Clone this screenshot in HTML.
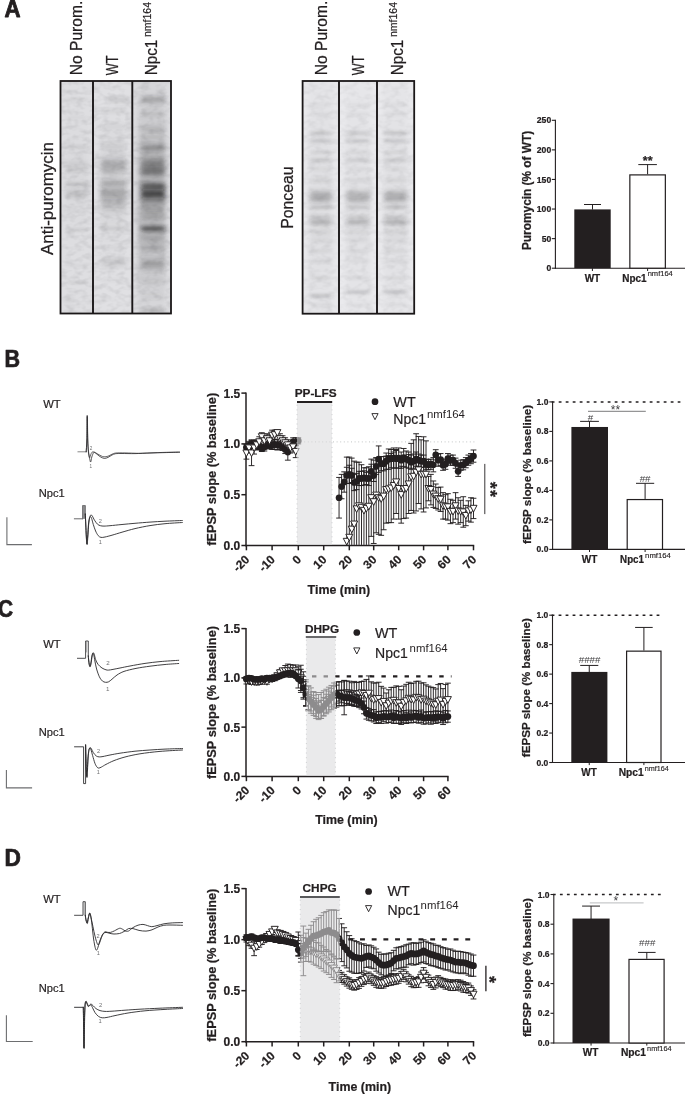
<!DOCTYPE html>
<html><head><meta charset="utf-8"><title>Figure</title>
<style>
html,body{margin:0;padding:0;background:#fff;}
body{width:685px;height:1094px;overflow:hidden;font-family:"Liberation Sans",Arial,sans-serif;}
svg{display:block;}
svg text{font-family:"Liberation Sans",Arial,sans-serif;}
</style></head><body>
<svg width="685" height="1094" viewBox="0 0 685 1094">
<defs>
<filter id="b1" x="-20%" y="-300%" width="140%" height="700%"><feGaussianBlur stdDeviation="1.6 1.1"/></filter>
<filter id="b2" x="-20%" y="-300%" width="140%" height="700%"><feGaussianBlur stdDeviation="2.2 2.2"/></filter>
<filter id="b3" x="-20%" y="-100%" width="140%" height="300%"><feGaussianBlur stdDeviation="3 4"/></filter>
<filter id="noise" x="0" y="0" width="100%" height="100%" color-interpolation-filters="sRGB"><feTurbulence type="fractalNoise" baseFrequency="0.12 0.2" numOctaves="2" seed="4"/><feColorMatrix type="matrix" values="0 0 0 0 0.08  0 0 0 0 0.08  0 0 0 0 0.1  0.2 0 0 0 -0.082"/></filter>
<filter id="noise2" x="0" y="0" width="100%" height="100%" color-interpolation-filters="sRGB"><feTurbulence type="fractalNoise" baseFrequency="0.12 0.2" numOctaves="2" seed="9"/><feColorMatrix type="matrix" values="0 0 0 0 0.08  0 0 0 0 0.08  0 0 0 0 0.1  0.14 0 0 0 -0.058"/></filter>
<linearGradient id="lg1" x1="0" x2="1" y1="0" y2="0"><stop offset="0" stop-color="#d2d3d5"/><stop offset="0.5" stop-color="#e2e3e5"/><stop offset="1" stop-color="#d6d7d9"/></linearGradient>
<linearGradient id="lg2" x1="0" x2="1" y1="0" y2="0"><stop offset="0" stop-color="#e3e4e6"/><stop offset="0.5" stop-color="#ecedef"/><stop offset="1" stop-color="#e3e4e6"/></linearGradient>
</defs>
<rect x="0" y="0" width="685" height="1094" fill="#ffffff"/>
<text transform="translate(4.6 16.9) scale(0.95 1)" x="0" y="0" font-size="23.4" font-weight="bold" fill="#231f20" stroke="#231f20" stroke-width="0.8" stroke-linejoin="round">A</text>
<text transform="translate(4.6 367.2) scale(0.93 1)" x="0" y="0" font-size="23.2" font-weight="bold" fill="#231f20" stroke="#231f20" stroke-width="0.7" stroke-linejoin="round">B</text>
<text transform="translate(-2.0 617.1) scale(0.9 1)" x="0" y="0" font-size="23.2" font-weight="bold" fill="#231f20" stroke="#231f20" stroke-width="0.7" stroke-linejoin="round">C</text>
<text transform="translate(4.6 866.3) scale(0.98 1)" x="0" y="0" font-size="23.2" font-weight="bold" fill="#231f20" stroke="#231f20" stroke-width="0.7" stroke-linejoin="round">D</text>
<clipPath id="cpA"><rect x="60.5" y="81" width="110.5" height="232.5"/></clipPath>
<g clip-path="url(#cpA)">
<rect x="60.5" y="81" width="32.5" height="232.5" fill="#dedee1"/>
<rect x="93" y="81" width="39.30000000000001" height="232.5" fill="#e0e0e3"/>
<rect x="132.3" y="81" width="38.69999999999999" height="232.5" fill="#dcdcdf"/>
<filter id="f0" x="-30%" y="-600%" width="160%" height="1300%"><feGaussianBlur stdDeviation="2.6 1.5"/></filter>
<rect x="66.0" y="98.2" width="21.5" height="3.0" fill="#141418" opacity="0.053" filter="url(#f0)"/>
<rect x="66.0" y="116.1" width="21.5" height="3.0" fill="#141418" opacity="0.032" filter="url(#f0)"/>
<rect x="66.0" y="145.2" width="21.5" height="3.0" fill="#141418" opacity="0.074" filter="url(#f0)"/>
<filter id="f1" x="-30%" y="-600%" width="160%" height="1300%"><feGaussianBlur stdDeviation="2.6 2.5"/></filter>
<rect x="66.0" y="162.2" width="21.5" height="5.0" fill="#141418" opacity="0.074" filter="url(#f1)"/>
<rect x="66.0" y="168.8" width="21.5" height="3.0" fill="#141418" opacity="0.074" filter="url(#f0)"/>
<rect x="66.0" y="182.7" width="21.5" height="3.0" fill="#141418" opacity="0.149" filter="url(#f0)"/>
<rect x="66.0" y="191.3" width="21.5" height="5.0" fill="#141418" opacity="0.159" filter="url(#f1)"/>
<rect x="66.0" y="210.3" width="21.5" height="3.0" fill="#141418" opacity="0.032" filter="url(#f0)"/>
<rect x="66.0" y="228.2" width="21.5" height="3.0" fill="#141418" opacity="0.074" filter="url(#f0)"/>
<rect x="66.0" y="264.1" width="21.5" height="3.0" fill="#141418" opacity="0.032" filter="url(#f0)"/>
<rect x="66.0" y="280.9" width="21.5" height="3.0" fill="#141418" opacity="0.053" filter="url(#f0)"/>
<filter id="f2" x="-30%" y="-600%" width="160%" height="1300%"><feGaussianBlur stdDeviation="2.6 2.0"/></filter>
<rect x="64.5" y="297.5" width="8.5" height="4.0" fill="#141418" opacity="0.106" filter="url(#f2)"/>
<filter id="f3" x="-30%" y="-600%" width="160%" height="1300%"><feGaussianBlur stdDeviation="2.6 30.0"/></filter>
<rect x="65.5" y="150.0" width="22.5" height="60.0" fill="#141418" opacity="0.032" filter="url(#f3)"/>
<rect x="107.0" y="97.7" width="21.3" height="4.0" fill="#141418" opacity="0.147" filter="url(#f2)"/>
<rect x="101.0" y="108.9" width="25.3" height="4.0" fill="#141418" opacity="0.074" filter="url(#f2)"/>
<rect x="101.0" y="124.6" width="25.3" height="4.0" fill="#141418" opacity="0.059" filter="url(#f2)"/>
<rect x="101.0" y="144.7" width="25.3" height="4.0" fill="#141418" opacity="0.088" filter="url(#f2)"/>
<filter id="f4" x="-30%" y="-600%" width="160%" height="1300%"><feGaussianBlur stdDeviation="2.6 4.5"/></filter>
<rect x="101.0" y="161.3" width="25.3" height="9.0" fill="#141418" opacity="0.294" filter="url(#f4)"/>
<rect x="101.0" y="180.6" width="25.3" height="4.0" fill="#141418" opacity="0.250" filter="url(#f2)"/>
<filter id="f5" x="-30%" y="-600%" width="160%" height="1300%"><feGaussianBlur stdDeviation="2.6 4.0"/></filter>
<rect x="101.0" y="188.7" width="25.3" height="8.0" fill="#141418" opacity="0.309" filter="url(#f5)"/>
<rect x="101.0" y="198.5" width="25.3" height="9.0" fill="#141418" opacity="0.176" filter="url(#f4)"/>
<rect x="101.0" y="227.1" width="25.3" height="3.0" fill="#141418" opacity="0.088" filter="url(#f0)"/>
<rect x="101.0" y="246.1" width="25.3" height="3.0" fill="#141418" opacity="0.044" filter="url(#f0)"/>
<filter id="f6" x="-30%" y="-600%" width="160%" height="1300%"><feGaussianBlur stdDeviation="2.6 3.0"/></filter>
<rect x="101.0" y="259.2" width="25.3" height="6.0" fill="#141418" opacity="0.147" filter="url(#f6)"/>
<rect x="101.0" y="278.5" width="25.3" height="3.0" fill="#141418" opacity="0.044" filter="url(#f0)"/>
<rect x="100.0" y="155.0" width="25.3" height="60.0" fill="#141418" opacity="0.088" filter="url(#f3)"/>
<rect x="141.3" y="97.2" width="23.7" height="5.0" fill="#141418" opacity="0.294" filter="url(#f1)"/>
<rect x="141.3" y="112.0" width="23.7" height="4.0" fill="#141418" opacity="0.118" filter="url(#f2)"/>
<rect x="141.3" y="126.8" width="23.7" height="4.0" fill="#141418" opacity="0.147" filter="url(#f2)"/>
<rect x="141.3" y="135.5" width="23.7" height="3.0" fill="#141418" opacity="0.088" filter="url(#f0)"/>
<rect x="141.3" y="145.4" width="23.7" height="5.0" fill="#141418" opacity="0.382" filter="url(#f1)"/>
<rect x="141.3" y="159.5" width="23.7" height="8.0" fill="#141418" opacity="0.471" filter="url(#f5)"/>
<rect x="141.3" y="168.4" width="23.7" height="6.0" fill="#141418" opacity="0.529" filter="url(#f6)"/>
<rect x="141.3" y="183.5" width="23.7" height="5.0" fill="#141418" opacity="0.706" filter="url(#f1)"/>
<rect x="141.3" y="190.8" width="23.7" height="6.0" fill="#141418" opacity="1.000" filter="url(#f6)"/>
<rect x="141.3" y="198.5" width="23.7" height="5.0" fill="#141418" opacity="0.294" filter="url(#f1)"/>
<rect x="141.3" y="207.0" width="23.7" height="5.0" fill="#141418" opacity="0.206" filter="url(#f1)"/>
<rect x="141.3" y="215.0" width="23.7" height="4.0" fill="#141418" opacity="0.176" filter="url(#f2)"/>
<rect x="141.3" y="226.6" width="23.7" height="4.0" fill="#141418" opacity="0.765" filter="url(#f2)"/>
<rect x="141.3" y="235.5" width="23.7" height="5.0" fill="#141418" opacity="0.176" filter="url(#f1)"/>
<rect x="141.3" y="245.6" width="23.7" height="4.0" fill="#141418" opacity="0.176" filter="url(#f2)"/>
<rect x="141.3" y="261.5" width="23.7" height="6.0" fill="#141418" opacity="0.294" filter="url(#f6)"/>
<rect x="141.3" y="279.0" width="23.7" height="4.0" fill="#141418" opacity="0.059" filter="url(#f2)"/>
<rect x="141.3" y="295.0" width="23.7" height="4.0" fill="#141418" opacity="0.044" filter="url(#f2)"/>
<rect x="141.3" y="308.4" width="23.7" height="4.0" fill="#141418" opacity="0.191" filter="url(#f2)"/>
<filter id="f7" x="-30%" y="-600%" width="160%" height="1300%"><feGaussianBlur stdDeviation="2.6 45.0"/></filter>
<rect x="138.3" y="140.0" width="26.7" height="90.0" fill="#141418" opacity="0.235" filter="url(#f7)"/>
<rect x="138.3" y="220.0" width="26.7" height="60.0" fill="#141418" opacity="0.074" filter="url(#f3)"/>
<rect x="60.5" y="81" width="110.5" height="232.5" fill="#000" filter="url(#noise)"/>
</g>
<rect x="60.5" y="81" width="110.5" height="232.5" fill="none" stroke="#1a1718" stroke-width="1.8"/>
<line x1="93.00" y1="81.00" x2="93.00" y2="313.50" stroke="#1a1718" stroke-width="1.9"/>
<line x1="132.30" y1="81.00" x2="132.30" y2="313.50" stroke="#1a1718" stroke-width="1.9"/>
<clipPath id="cpP"><rect x="302.6" y="81" width="111.59999999999997" height="232.7"/></clipPath>
<g clip-path="url(#cpP)">
<rect x="302.6" y="81" width="36.39999999999998" height="232.7" fill="#e8e8eb"/>
<rect x="339" y="81" width="38" height="232.7" fill="#eaeaed"/>
<rect x="377" y="81" width="37.19999999999999" height="232.7" fill="#e9e9ec"/>
<rect x="310.1" y="103.5" width="21.4" height="3.0" fill="#141418" opacity="0.044" filter="url(#f0)"/>
<rect x="310.1" y="112.5" width="21.4" height="3.0" fill="#141418" opacity="0.051" filter="url(#f0)"/>
<filter id="f8" x="-30%" y="-600%" width="160%" height="1300%"><feGaussianBlur stdDeviation="2.6 1.8"/></filter>
<rect x="310.1" y="131.5" width="21.4" height="3.6" fill="#141418" opacity="0.132" filter="url(#f8)"/>
<rect x="310.1" y="139.2" width="21.4" height="3.6" fill="#141418" opacity="0.132" filter="url(#f8)"/>
<rect x="310.1" y="150.9" width="21.4" height="3.0" fill="#141418" opacity="0.074" filter="url(#f0)"/>
<filter id="f9" x="-30%" y="-600%" width="160%" height="1300%"><feGaussianBlur stdDeviation="2.6 1.7"/></filter>
<rect x="310.1" y="158.5" width="21.4" height="3.4" fill="#141418" opacity="0.132" filter="url(#f9)"/>
<rect x="310.1" y="167.5" width="21.4" height="3.0" fill="#141418" opacity="0.044" filter="url(#f0)"/>
<rect x="310.1" y="178.7" width="21.4" height="3.4" fill="#141418" opacity="0.074" filter="url(#f9)"/>
<rect x="310.1" y="191.5" width="21.4" height="5.0" fill="#141418" opacity="0.250" filter="url(#f1)"/>
<rect x="310.1" y="196.5" width="21.4" height="5.0" fill="#141418" opacity="0.279" filter="url(#f1)"/>
<rect x="310.1" y="205.6" width="21.4" height="3.4" fill="#141418" opacity="0.162" filter="url(#f9)"/>
<rect x="310.1" y="215.0" width="21.4" height="3.4" fill="#141418" opacity="0.118" filter="url(#f9)"/>
<filter id="f10" x="-30%" y="-600%" width="160%" height="1300%"><feGaussianBlur stdDeviation="2.6 1.9"/></filter>
<rect x="310.1" y="220.3" width="21.4" height="3.8" fill="#141418" opacity="0.324" filter="url(#f10)"/>
<rect x="310.1" y="230.0" width="21.4" height="4.0" fill="#141418" opacity="0.088" filter="url(#f2)"/>
<rect x="310.1" y="238.0" width="21.4" height="4.0" fill="#141418" opacity="0.059" filter="url(#f2)"/>
<rect x="310.1" y="249.5" width="21.4" height="3.0" fill="#141418" opacity="0.059" filter="url(#f0)"/>
<rect x="310.1" y="259.5" width="21.4" height="3.0" fill="#141418" opacity="0.059" filter="url(#f0)"/>
<rect x="310.1" y="276.5" width="21.4" height="3.0" fill="#141418" opacity="0.074" filter="url(#f0)"/>
<rect x="310.1" y="294.1" width="21.4" height="3.6" fill="#141418" opacity="0.162" filter="url(#f8)"/>
<rect x="310.1" y="303.3" width="21.4" height="3.0" fill="#141418" opacity="0.051" filter="url(#f0)"/>
<filter id="f11" x="-30%" y="-600%" width="160%" height="1300%"><feGaussianBlur stdDeviation="2.6 75.0"/></filter>
<rect x="308.6" y="125.0" width="24.4" height="150.0" fill="#141418" opacity="0.051" filter="url(#f11)"/>
<rect x="346.5" y="103.5" width="23.0" height="3.0" fill="#141418" opacity="0.041" filter="url(#f0)"/>
<rect x="346.5" y="112.5" width="23.0" height="3.0" fill="#141418" opacity="0.047" filter="url(#f0)"/>
<rect x="346.5" y="131.5" width="23.0" height="3.6" fill="#141418" opacity="0.122" filter="url(#f8)"/>
<rect x="346.5" y="139.2" width="23.0" height="3.6" fill="#141418" opacity="0.122" filter="url(#f8)"/>
<rect x="346.5" y="150.9" width="23.0" height="3.0" fill="#141418" opacity="0.068" filter="url(#f0)"/>
<rect x="346.5" y="158.5" width="23.0" height="3.4" fill="#141418" opacity="0.122" filter="url(#f9)"/>
<rect x="346.5" y="167.5" width="23.0" height="3.0" fill="#141418" opacity="0.041" filter="url(#f0)"/>
<rect x="346.5" y="178.7" width="23.0" height="3.4" fill="#141418" opacity="0.068" filter="url(#f9)"/>
<rect x="346.5" y="191.5" width="23.0" height="5.0" fill="#141418" opacity="0.229" filter="url(#f1)"/>
<rect x="346.5" y="196.5" width="23.0" height="5.0" fill="#141418" opacity="0.257" filter="url(#f1)"/>
<rect x="346.5" y="205.6" width="23.0" height="3.4" fill="#141418" opacity="0.149" filter="url(#f9)"/>
<rect x="346.5" y="215.0" width="23.0" height="3.4" fill="#141418" opacity="0.109" filter="url(#f9)"/>
<rect x="346.5" y="220.3" width="23.0" height="3.8" fill="#141418" opacity="0.297" filter="url(#f10)"/>
<rect x="346.5" y="230.0" width="23.0" height="4.0" fill="#141418" opacity="0.081" filter="url(#f2)"/>
<rect x="346.5" y="238.0" width="23.0" height="4.0" fill="#141418" opacity="0.054" filter="url(#f2)"/>
<rect x="346.5" y="249.5" width="23.0" height="3.0" fill="#141418" opacity="0.054" filter="url(#f0)"/>
<rect x="346.5" y="259.5" width="23.0" height="3.0" fill="#141418" opacity="0.054" filter="url(#f0)"/>
<rect x="346.5" y="276.5" width="23.0" height="3.0" fill="#141418" opacity="0.068" filter="url(#f0)"/>
<rect x="346.5" y="290.2" width="23.0" height="3.6" fill="#141418" opacity="0.149" filter="url(#f8)"/>
<rect x="346.5" y="303.3" width="23.0" height="3.0" fill="#141418" opacity="0.047" filter="url(#f0)"/>
<rect x="345.0" y="125.0" width="26.0" height="150.0" fill="#141418" opacity="0.051" filter="url(#f11)"/>
<rect x="384.5" y="103.5" width="22.2" height="3.0" fill="#141418" opacity="0.044" filter="url(#f0)"/>
<rect x="384.5" y="112.5" width="22.2" height="3.0" fill="#141418" opacity="0.051" filter="url(#f0)"/>
<rect x="384.5" y="131.5" width="22.2" height="3.6" fill="#141418" opacity="0.132" filter="url(#f8)"/>
<rect x="384.5" y="139.2" width="22.2" height="3.6" fill="#141418" opacity="0.132" filter="url(#f8)"/>
<rect x="384.5" y="150.9" width="22.2" height="3.0" fill="#141418" opacity="0.074" filter="url(#f0)"/>
<rect x="384.5" y="158.5" width="22.2" height="3.4" fill="#141418" opacity="0.132" filter="url(#f9)"/>
<rect x="384.5" y="167.5" width="22.2" height="3.0" fill="#141418" opacity="0.044" filter="url(#f0)"/>
<rect x="384.5" y="178.7" width="22.2" height="3.4" fill="#141418" opacity="0.074" filter="url(#f9)"/>
<rect x="384.5" y="191.5" width="22.2" height="5.0" fill="#141418" opacity="0.250" filter="url(#f1)"/>
<rect x="384.5" y="196.5" width="22.2" height="5.0" fill="#141418" opacity="0.279" filter="url(#f1)"/>
<rect x="384.5" y="205.6" width="22.2" height="3.4" fill="#141418" opacity="0.162" filter="url(#f9)"/>
<rect x="384.5" y="215.0" width="22.2" height="3.4" fill="#141418" opacity="0.118" filter="url(#f9)"/>
<rect x="384.5" y="220.3" width="22.2" height="3.8" fill="#141418" opacity="0.324" filter="url(#f10)"/>
<rect x="384.5" y="230.0" width="22.2" height="4.0" fill="#141418" opacity="0.088" filter="url(#f2)"/>
<rect x="384.5" y="238.0" width="22.2" height="4.0" fill="#141418" opacity="0.059" filter="url(#f2)"/>
<rect x="384.5" y="249.5" width="22.2" height="3.0" fill="#141418" opacity="0.059" filter="url(#f0)"/>
<rect x="384.5" y="259.5" width="22.2" height="3.0" fill="#141418" opacity="0.059" filter="url(#f0)"/>
<rect x="384.5" y="276.5" width="22.2" height="3.0" fill="#141418" opacity="0.074" filter="url(#f0)"/>
<rect x="384.5" y="290.2" width="22.2" height="3.6" fill="#141418" opacity="0.162" filter="url(#f8)"/>
<rect x="384.5" y="303.3" width="22.2" height="3.0" fill="#141418" opacity="0.051" filter="url(#f0)"/>
<rect x="383.0" y="125.0" width="25.2" height="150.0" fill="#141418" opacity="0.051" filter="url(#f11)"/>
<rect x="302.6" y="81" width="111.59999999999997" height="232.7" fill="#000" filter="url(#noise2)"/>
</g>
<rect x="302.6" y="81" width="111.59999999999997" height="232.7" fill="none" stroke="#1a1718" stroke-width="1.8"/>
<line x1="339.00" y1="81.00" x2="339.00" y2="313.70" stroke="#1a1718" stroke-width="1.9"/>
<line x1="377.00" y1="81.00" x2="377.00" y2="313.70" stroke="#1a1718" stroke-width="1.9"/>
<text x="0" y="0" transform="translate(81.90 75.20) rotate(-90)" font-size="16" text-anchor="start" fill="#231f20" textLength="74.50" lengthAdjust="spacingAndGlyphs" stroke="#231f20" stroke-width="0.25">No Purom.</text>
<text x="0" y="0" transform="translate(118.30 75.20) rotate(-90)" font-size="16" text-anchor="start" fill="#231f20" textLength="19.60" lengthAdjust="spacingAndGlyphs" stroke="#231f20" stroke-width="0.25">WT</text>
<text x="0" y="0" transform="translate(156.90 75.20) rotate(-90)" font-size="16" text-anchor="start" fill="#231f20" textLength="35.50" lengthAdjust="spacingAndGlyphs" stroke="#231f20" stroke-width="0.25">Npc1</text>
<text x="0" y="0" transform="translate(151.10 37.00) rotate(-90)" font-size="10.6" text-anchor="start" fill="#231f20" textLength="35.00" lengthAdjust="spacingAndGlyphs" stroke="#231f20" stroke-width="0.2">nmf164</text>
<text x="0" y="0" transform="translate(327.20 75.20) rotate(-90)" font-size="16" text-anchor="start" fill="#231f20" textLength="74.50" lengthAdjust="spacingAndGlyphs" stroke="#231f20" stroke-width="0.25">No Purom.</text>
<text x="0" y="0" transform="translate(363.50 75.20) rotate(-90)" font-size="16" text-anchor="start" fill="#231f20" textLength="19.60" lengthAdjust="spacingAndGlyphs" stroke="#231f20" stroke-width="0.25">WT</text>
<text x="0" y="0" transform="translate(402.50 75.20) rotate(-90)" font-size="16" text-anchor="start" fill="#231f20" textLength="35.50" lengthAdjust="spacingAndGlyphs" stroke="#231f20" stroke-width="0.25">Npc1</text>
<text x="0" y="0" transform="translate(396.70 37.00) rotate(-90)" font-size="10.6" text-anchor="start" fill="#231f20" textLength="35.00" lengthAdjust="spacingAndGlyphs" stroke="#231f20" stroke-width="0.2">nmf164</text>
<text x="0" y="0" transform="translate(52.70 255.00) rotate(-90)" font-size="15.8" text-anchor="start" fill="#231f20" textLength="113.00" lengthAdjust="spacingAndGlyphs" stroke="#231f20" stroke-width="0.25">Anti-puromycin</text>
<text x="0" y="0" transform="translate(292.90 228.70) rotate(-90)" font-size="15.8" text-anchor="start" fill="#231f20" textLength="62.30" lengthAdjust="spacingAndGlyphs" stroke="#231f20" stroke-width="0.25">Ponceau</text>
<text x="43.20" y="407.50" font-size="10.8" text-anchor="start" fill="#231f20" textLength="17.50" lengthAdjust="spacingAndGlyphs" stroke="#231f20" stroke-width="0.2">WT</text>
<path d="M77.90 451.80 L86.20 451.80" fill="none" stroke="#555" stroke-width="0.7" stroke-linejoin="round" stroke-linecap="round"/>
<path d="M86.20 451.80 C86.30 449.91 86.64 445.82 86.80 440.00 C86.96 434.18 87.06 415.40 87.20 415.40 C87.34 415.40 87.51 434.14 87.70 440.00 C87.89 445.86 88.10 449.02 88.40 452.00 C88.70 454.98 89.23 457.00 89.60 458.60 C89.97 460.20 90.35 462.26 90.70 462.00 C91.05 461.74 91.32 458.50 91.80 457.00 C92.28 455.50 93.03 453.18 93.70 452.60 C94.37 452.02 94.99 452.76 96.00 453.40 C97.01 454.04 98.69 455.80 100.00 456.60 C101.31 457.40 102.92 458.27 104.20 458.40 C105.48 458.53 106.75 457.94 108.00 457.40 C109.25 456.86 110.78 455.59 112.00 455.00 C113.22 454.41 114.00 453.94 115.60 453.70 C117.20 453.46 118.90 453.52 122.00 453.50 C125.10 453.48 130.52 453.68 135.00 453.60 C139.48 453.52 145.20 453.16 150.00 453.00 C154.80 452.84 160.28 452.71 165.00 452.60 C169.72 452.49 177.18 452.35 179.50 452.30" fill="none" stroke="#2b2a2c" stroke-width="0.8" stroke-linejoin="round" stroke-linecap="round"/>
<path d="M86.20 451.80 C86.31 449.91 86.72 445.65 86.90 440.00 C87.08 434.35 87.16 416.50 87.30 416.50 C87.44 416.50 87.61 434.48 87.80 440.00 C87.99 445.52 88.21 448.18 88.50 451.00 C88.79 453.82 89.26 456.96 89.60 457.60 C89.94 458.24 90.22 455.86 90.60 455.00 C90.98 454.14 91.46 452.68 92.00 452.20 C92.54 451.72 93.20 451.78 94.00 452.00 C94.80 452.22 95.88 452.99 97.00 453.60 C98.12 454.21 99.88 455.29 101.00 455.80 C102.12 456.31 102.88 456.74 104.00 456.80 C105.12 456.86 106.72 456.62 108.00 456.20 C109.28 455.78 110.72 454.71 112.00 454.20 C113.28 453.69 113.92 453.21 116.00 453.00 C118.08 452.79 121.16 452.85 125.00 452.90 C128.84 452.95 135.20 453.33 140.00 453.30 C144.80 453.27 150.20 452.88 155.00 452.70 C159.80 452.52 166.08 452.31 170.00 452.20 C173.92 452.09 177.98 452.03 179.50 452.00" fill="none" stroke="#2b2a2c" stroke-width="0.7" stroke-linejoin="round" stroke-linecap="round"/>
<text x="91.00" y="450.40" font-size="4.6" text-anchor="middle" fill="#6d6e70">2</text>
<text x="90.70" y="468.00" font-size="4.6" text-anchor="middle" fill="#6d6e70">1</text>
<text x="38.80" y="496.60" font-size="10.8" text-anchor="start" fill="#231f20" textLength="26.00" lengthAdjust="spacingAndGlyphs" stroke="#231f20" stroke-width="0.2">Npc1</text>
<path d="M74.30 518.80 L82.60 518.80" fill="none" stroke="#6a6a6c" stroke-width="1.0" stroke-linejoin="round" stroke-linecap="round"/>
<rect x="82.3" y="505.3" width="3.3" height="13.6" fill="#8e8e90"/>
<path d="M82.60 518.80 L82.60 505.60 L85.30 505.60 L85.30 515.00" fill="none" stroke="#5a5a5c" stroke-width="0.7" stroke-linejoin="round" stroke-linecap="round"/>
<path d="M85.30 514.00 C85.38 515.60 85.62 520.32 85.80 524.00 C85.98 527.68 86.19 533.70 86.40 537.00 C86.61 540.30 86.86 544.76 87.10 544.60 C87.34 544.44 87.63 539.46 87.90 536.00 C88.17 532.54 88.48 526.10 88.80 523.00 C89.12 519.90 89.55 517.88 89.90 516.60 C90.25 515.32 90.62 515.10 91.00 515.00 C91.38 514.90 91.74 515.17 92.30 516.00 C92.86 516.83 93.67 518.89 94.50 520.20 C95.33 521.51 96.56 523.32 97.50 524.20 C98.44 525.08 99.36 525.40 100.40 525.70 C101.44 526.00 102.46 526.10 104.00 526.10 C105.54 526.10 107.12 525.96 110.00 525.70 C112.88 525.44 118.00 524.88 122.00 524.50 C126.00 524.12 130.52 523.68 135.00 523.30 C139.48 522.92 145.20 522.44 150.00 522.10 C154.80 521.76 159.83 521.46 165.00 521.20 C170.17 520.94 179.53 520.61 182.30 520.50" fill="none" stroke="#2b2a2c" stroke-width="0.9" stroke-linejoin="round" stroke-linecap="round"/>
<path d="M85.30 514.00 C85.36 515.60 85.54 520.32 85.70 524.00 C85.86 527.68 86.11 533.80 86.30 537.00 C86.49 540.20 86.69 544.00 86.90 544.00 C87.11 544.00 87.36 540.04 87.60 537.00 C87.84 533.96 88.11 527.98 88.40 525.00 C88.69 522.02 89.08 519.74 89.40 518.40 C89.72 517.06 90.05 516.60 90.40 516.60 C90.75 516.60 91.14 517.14 91.60 518.40 C92.06 519.66 92.66 522.48 93.30 524.50 C93.94 526.52 94.82 529.22 95.60 531.00 C96.38 532.78 97.34 534.58 98.20 535.60 C99.06 536.62 99.91 537.18 101.00 537.40 C102.09 537.62 103.24 537.35 105.00 537.00 C106.76 536.65 109.28 535.97 112.00 535.20 C114.72 534.43 118.32 533.26 122.00 532.20 C125.68 531.14 130.52 529.66 135.00 528.60 C139.48 527.54 145.20 526.38 150.00 525.60 C154.80 524.82 159.83 524.20 165.00 523.70 C170.17 523.20 179.53 522.69 182.30 522.50" fill="none" stroke="#2b2a2c" stroke-width="0.9" stroke-linejoin="round" stroke-linecap="round"/>
<text x="100.20" y="522.50" font-size="5.6" text-anchor="middle" fill="#6d6e70">2</text>
<text x="100.20" y="543.60" font-size="5.6" text-anchor="middle" fill="#6d6e70">1</text>
<path d="M6.9 517.2 L6.9 544.6 L31.9 544.6" fill="none" stroke="#6d6e70" stroke-width="1.1"/>
<text x="43.20" y="647.50" font-size="10.8" text-anchor="start" fill="#231f20" textLength="17.50" lengthAdjust="spacingAndGlyphs" stroke="#231f20" stroke-width="0.2">WT</text>
<path d="M77.40 658.30 L85.60 658.30 L85.60 641.00 L88.30 641.00 L88.30 656.00" fill="none" stroke="#3a3a3c" stroke-width="0.9" stroke-linejoin="round" stroke-linecap="round"/>
<path d="M86.60 641.40 L86.60 652.00" fill="none" stroke="#777" stroke-width="0.6" stroke-linejoin="round" stroke-linecap="round"/>
<path d="M88.30 656.00 C88.36 656.64 88.52 658.59 88.70 660.00 C88.88 661.41 89.14 663.78 89.40 664.80 C89.66 665.82 90.01 666.77 90.30 666.40 C90.59 666.03 90.90 664.20 91.20 662.50 C91.50 660.80 91.88 657.35 92.20 655.80 C92.52 654.25 92.86 653.01 93.20 652.80 C93.54 652.59 93.92 653.43 94.30 654.50 C94.68 655.57 95.01 657.93 95.60 659.50 C96.19 661.07 96.98 662.94 98.00 664.30 C99.02 665.66 100.72 667.12 102.00 668.00 C103.28 668.88 104.96 669.46 106.00 669.80 C107.04 670.14 107.38 670.16 108.50 670.10 C109.62 670.04 111.16 669.74 113.00 669.40 C114.84 669.06 117.28 668.54 120.00 668.00 C122.72 667.46 126.00 666.74 130.00 666.00 C134.00 665.26 140.20 664.10 145.00 663.40 C149.80 662.70 154.61 662.10 160.00 661.60 C165.39 661.10 175.71 660.51 178.70 660.30" fill="none" stroke="#2b2a2c" stroke-width="0.9" stroke-linejoin="round" stroke-linecap="round"/>
<path d="M88.30 656.00 C88.35 656.64 88.46 658.62 88.60 660.00 C88.74 661.38 88.98 663.54 89.20 664.60 C89.42 665.66 89.73 666.86 90.00 666.60 C90.27 666.34 90.61 664.63 90.90 663.00 C91.19 661.37 91.50 657.95 91.80 656.40 C92.10 654.85 92.48 653.52 92.80 653.30 C93.12 653.08 93.46 653.77 93.80 655.00 C94.14 656.23 94.45 658.76 94.90 661.00 C95.35 663.24 95.88 666.47 96.60 669.00 C97.32 671.53 98.47 674.88 99.40 676.80 C100.33 678.72 101.42 680.12 102.40 681.00 C103.38 681.88 104.51 682.17 105.50 682.30 C106.49 682.43 107.56 682.30 108.60 681.80 C109.64 681.30 110.66 680.29 112.00 679.20 C113.34 678.11 115.08 676.25 117.00 675.00 C118.92 673.75 120.96 672.46 124.00 671.40 C127.04 670.34 131.84 669.23 136.00 668.40 C140.16 667.57 145.36 666.82 150.00 666.20 C154.64 665.58 160.41 664.93 165.00 664.50 C169.59 664.07 176.51 663.66 178.70 663.50" fill="none" stroke="#2b2a2c" stroke-width="0.9" stroke-linejoin="round" stroke-linecap="round"/>
<text x="108.10" y="664.80" font-size="6.2" text-anchor="middle" fill="#6d6e70">2</text>
<text x="107.80" y="690.60" font-size="6.2" text-anchor="middle" fill="#6d6e70">1</text>
<text x="38.80" y="736.00" font-size="10.8" text-anchor="start" fill="#231f20" textLength="26.00" lengthAdjust="spacingAndGlyphs" stroke="#231f20" stroke-width="0.2">Npc1</text>
<path d="M74.50 746.80 L83.60 746.80 L83.60 783.60 L85.60 783.60 L85.60 745.00" fill="none" stroke="#2f2f31" stroke-width="0.9" stroke-linejoin="round" stroke-linecap="round"/>
<path d="M85.60 745.00 C85.66 747.40 85.86 755.68 86.00 760.00 C86.14 764.32 86.34 769.20 86.50 772.00 C86.66 774.80 86.84 777.82 87.00 777.50 C87.16 777.18 87.32 773.12 87.50 770.00 C87.68 766.88 87.88 761.12 88.10 758.00 C88.32 754.88 88.66 752.07 88.90 750.50 C89.14 748.93 89.38 748.66 89.60 748.20 C89.82 747.74 90.01 747.50 90.30 747.60 C90.59 747.70 90.92 748.00 91.40 748.80 C91.88 749.60 92.52 751.45 93.30 752.60 C94.08 753.75 95.34 755.31 96.30 756.00 C97.26 756.69 98.23 756.82 99.30 756.90 C100.37 756.98 101.29 756.80 103.00 756.50 C104.71 756.20 107.28 755.53 110.00 755.00 C112.72 754.47 116.00 753.81 120.00 753.20 C124.00 752.59 130.20 751.71 135.00 751.20 C139.80 750.69 145.20 750.34 150.00 750.00 C154.80 749.66 159.80 749.34 165.00 749.10 C170.20 748.86 179.70 748.60 182.50 748.50" fill="none" stroke="#2b2a2c" stroke-width="0.9" stroke-linejoin="round" stroke-linecap="round"/>
<path d="M85.60 745.00 C85.65 747.40 85.79 755.84 85.90 760.00 C86.01 764.16 86.16 768.36 86.30 771.00 C86.44 773.64 86.64 776.66 86.80 776.50 C86.96 776.34 87.12 772.80 87.30 770.00 C87.48 767.20 87.69 761.96 87.90 759.00 C88.11 756.04 88.38 753.13 88.60 751.50 C88.82 749.87 89.08 749.36 89.30 748.80 C89.52 748.24 89.73 747.84 90.00 748.00 C90.27 748.16 90.58 748.60 91.00 749.80 C91.42 751.00 91.96 753.31 92.60 755.50 C93.24 757.69 94.26 761.61 95.00 763.50 C95.74 765.39 96.59 766.56 97.20 767.30 C97.81 768.04 98.11 768.15 98.80 768.10 C99.49 768.05 100.35 767.59 101.50 767.00 C102.65 766.41 104.00 765.42 106.00 764.40 C108.00 763.38 110.96 761.78 114.00 760.60 C117.04 759.42 120.84 758.09 125.00 757.00 C129.16 755.91 134.40 754.70 140.00 753.80 C145.60 752.90 153.20 752.01 160.00 751.40 C166.80 750.79 178.90 750.22 182.50 750.00" fill="none" stroke="#2b2a2c" stroke-width="0.9" stroke-linejoin="round" stroke-linecap="round"/>
<text x="98.50" y="753.40" font-size="5.6" text-anchor="middle" fill="#6d6e70">2</text>
<text x="98.30" y="773.50" font-size="5.6" text-anchor="middle" fill="#6d6e70">1</text>
<path d="M6.4 770.1 L6.4 787.9 L32.1 787.9" fill="none" stroke="#6d6e70" stroke-width="1.1"/>
<text x="43.20" y="902.80" font-size="10.8" text-anchor="start" fill="#231f20" textLength="17.50" lengthAdjust="spacingAndGlyphs" stroke="#231f20" stroke-width="0.2">WT</text>
<path d="M74.50 915.30 L83.00 915.30 L83.00 901.70 L85.30 901.70 L85.30 915.30" fill="none" stroke="#3a3a3c" stroke-width="0.9" stroke-linejoin="round" stroke-linecap="round"/>
<path d="M84.10 902.20 L84.10 914.50" fill="none" stroke="#777" stroke-width="0.6" stroke-linejoin="round" stroke-linecap="round"/>
<path d="M85.30 915.30 C85.41 916.02 85.68 918.49 86.00 919.80 C86.32 921.11 86.92 923.79 87.30 923.50 C87.68 923.21 88.02 919.68 88.40 918.00 C88.78 916.32 89.32 913.32 89.70 913.00 C90.08 912.68 90.43 914.08 90.80 916.00 C91.17 917.92 91.55 921.32 92.00 925.00 C92.45 928.68 93.09 935.38 93.60 939.00 C94.11 942.62 94.77 945.81 95.20 947.60 C95.63 949.39 95.92 950.07 96.30 950.20 C96.68 950.33 97.09 949.71 97.60 948.40 C98.11 947.09 98.88 943.89 99.50 942.00 C100.12 940.11 100.89 937.94 101.50 936.60 C102.11 935.26 102.58 934.27 103.30 933.60 C104.02 932.93 104.93 932.43 106.00 932.40 C107.07 932.37 108.72 933.14 110.00 933.40 C111.28 933.66 112.48 933.98 114.00 934.00 C115.52 934.02 118.06 933.82 119.50 933.50 C120.94 933.18 122.09 932.42 123.00 932.00 C123.91 931.58 124.32 931.44 125.20 930.90 C126.08 930.36 127.25 928.97 128.50 928.60 C129.75 928.23 131.32 928.31 133.00 928.60 C134.68 928.89 136.92 930.00 139.00 930.40 C141.08 930.80 143.92 931.20 146.00 931.10 C148.08 931.00 150.08 930.46 152.00 929.80 C153.92 929.14 156.16 927.70 158.00 927.00 C159.84 926.30 161.58 925.72 163.50 925.40 C165.42 925.08 166.96 925.02 170.00 925.00 C173.04 924.98 180.50 925.25 182.50 925.30" fill="none" stroke="#2b2a2c" stroke-width="0.9" stroke-linejoin="round" stroke-linecap="round"/>
<path d="M85.30 915.30 C85.40 915.99 85.61 918.37 85.90 919.60 C86.19 920.83 86.73 923.26 87.10 923.00 C87.47 922.74 87.82 919.55 88.20 918.00 C88.58 916.45 89.10 913.54 89.50 913.30 C89.90 913.06 90.24 914.79 90.70 916.50 C91.16 918.21 91.79 921.20 92.40 924.00 C93.01 926.80 93.84 931.20 94.50 934.00 C95.16 936.80 95.94 939.76 96.50 941.50 C97.06 943.24 97.52 944.66 98.00 944.90 C98.48 945.14 98.94 944.20 99.50 943.00 C100.06 941.80 100.89 938.90 101.50 937.40 C102.11 935.90 102.74 934.50 103.30 933.60 C103.86 932.70 104.33 932.01 105.00 931.80 C105.67 931.59 106.62 932.20 107.50 932.30 C108.38 932.40 109.38 932.64 110.50 932.40 C111.62 932.16 113.06 931.46 114.50 930.80 C115.94 930.14 118.22 928.56 119.50 928.30 C120.78 928.04 121.59 928.78 122.50 929.20 C123.41 929.62 124.24 930.61 125.20 930.90 C126.16 931.19 127.25 931.53 128.50 931.00 C129.75 930.47 131.48 928.53 133.00 927.60 C134.52 926.67 136.40 925.71 138.00 925.20 C139.60 924.69 141.48 924.34 143.00 924.40 C144.52 924.46 146.09 925.23 147.50 925.60 C148.91 925.97 150.28 926.70 151.80 926.70 C153.32 926.70 155.05 926.06 157.00 925.60 C158.95 925.14 161.55 924.23 164.00 923.80 C166.45 923.37 169.34 923.09 172.30 922.90 C175.26 922.71 180.87 922.65 182.50 922.60" fill="none" stroke="#2b2a2c" stroke-width="0.9" stroke-linejoin="round" stroke-linecap="round"/>
<text x="98.00" y="937.70" font-size="5.6" text-anchor="middle" fill="#6d6e70">2</text>
<text x="98.20" y="955.20" font-size="5.6" text-anchor="middle" fill="#6d6e70">1</text>
<text x="38.80" y="991.50" font-size="10.8" text-anchor="start" fill="#231f20" textLength="26.00" lengthAdjust="spacingAndGlyphs" stroke="#231f20" stroke-width="0.2">Npc1</text>
<path d="M74.50 1007.30 L83.30 1007.30" fill="none" stroke="#3a3a3c" stroke-width="1.0" stroke-linejoin="round" stroke-linecap="round"/>
<path d="M83.30 1007.30 C83.35 1009.33 83.47 1013.41 83.60 1020.00 C83.73 1026.59 83.94 1048.50 84.10 1048.50 C84.26 1048.50 84.42 1027.04 84.60 1020.00 C84.78 1012.96 84.96 1007.51 85.20 1004.50 C85.44 1001.49 85.78 1001.38 86.10 1001.20 C86.42 1001.02 86.82 1002.62 87.20 1003.40 C87.58 1004.18 88.08 1005.88 88.50 1006.10 C88.92 1006.32 89.38 1005.12 89.80 1004.80 C90.22 1004.48 90.59 1003.97 91.10 1004.10 C91.61 1004.23 92.22 1004.88 93.00 1005.60 C93.78 1006.32 94.88 1007.80 96.00 1008.60 C97.12 1009.40 98.56 1010.15 100.00 1010.60 C101.44 1011.05 103.08 1011.30 105.00 1011.40 C106.92 1011.50 108.80 1011.39 112.00 1011.20 C115.20 1011.01 120.52 1010.52 125.00 1010.20 C129.48 1009.88 134.40 1009.52 140.00 1009.20 C145.60 1008.88 153.20 1008.50 160.00 1008.20 C166.80 1007.90 178.90 1007.44 182.50 1007.30" fill="none" stroke="#2b2a2c" stroke-width="0.9" stroke-linejoin="round" stroke-linecap="round"/>
<path d="M83.30 1007.30 C83.33 1009.33 83.40 1013.49 83.50 1020.00 C83.60 1026.51 83.76 1048.00 83.90 1048.00 C84.04 1048.00 84.22 1026.88 84.40 1020.00 C84.58 1013.12 84.76 1007.94 85.00 1005.00 C85.24 1002.06 85.58 1001.79 85.90 1001.60 C86.22 1001.41 86.62 1003.00 87.00 1003.80 C87.38 1004.60 87.88 1006.34 88.30 1006.60 C88.72 1006.86 89.18 1005.66 89.60 1005.40 C90.02 1005.14 90.44 1004.65 90.90 1005.00 C91.36 1005.35 91.84 1006.38 92.50 1007.60 C93.16 1008.82 94.04 1011.19 95.00 1012.60 C95.96 1014.01 97.35 1015.57 98.50 1016.40 C99.65 1017.23 100.84 1017.64 102.20 1017.80 C103.56 1017.96 104.95 1017.75 107.00 1017.40 C109.05 1017.05 111.64 1016.30 115.00 1015.60 C118.36 1014.90 123.20 1013.77 128.00 1013.00 C132.80 1012.23 139.08 1011.38 145.00 1010.80 C150.92 1010.22 159.00 1009.77 165.00 1009.40 C171.00 1009.03 179.70 1008.64 182.50 1008.50" fill="none" stroke="#2b2a2c" stroke-width="0.9" stroke-linejoin="round" stroke-linecap="round"/>
<text x="100.50" y="1006.90" font-size="5.8" text-anchor="middle" fill="#6d6e70">2</text>
<text x="100.20" y="1022.80" font-size="5.8" text-anchor="middle" fill="#6d6e70">1</text>
<path d="M6.4 1015.2 L6.4 1041.5 L32.7 1041.5" fill="none" stroke="#6d6e70" stroke-width="1.1"/>
<line x1="246.00" y1="392.40" x2="246.00" y2="546.20" stroke="#231f20" stroke-width="1.5"/>
<line x1="245.30" y1="545.50" x2="474.20" y2="545.50" stroke="#231f20" stroke-width="1.5"/>
<line x1="241.40" y1="393.10" x2="246.00" y2="393.10" stroke="#231f20" stroke-width="1.5"/>
<text x="240.20" y="397.50" font-size="12" font-weight="bold" stroke="#231f20" stroke-width="0.22" text-anchor="end" fill="#231f20">1.5</text>
<line x1="241.40" y1="443.90" x2="246.00" y2="443.90" stroke="#231f20" stroke-width="1.5"/>
<text x="240.20" y="448.30" font-size="12" font-weight="bold" stroke="#231f20" stroke-width="0.22" text-anchor="end" fill="#231f20">1.0</text>
<line x1="241.40" y1="494.70" x2="246.00" y2="494.70" stroke="#231f20" stroke-width="1.5"/>
<text x="240.20" y="499.10" font-size="12" font-weight="bold" stroke="#231f20" stroke-width="0.22" text-anchor="end" fill="#231f20">0.5</text>
<line x1="241.40" y1="545.50" x2="246.00" y2="545.50" stroke="#231f20" stroke-width="1.5"/>
<text x="240.20" y="549.90" font-size="12" font-weight="bold" stroke="#231f20" stroke-width="0.22" text-anchor="end" fill="#231f20">0.0</text>
<line x1="246.40" y1="545.50" x2="246.40" y2="550.30" stroke="#231f20" stroke-width="1.5"/>
<text transform="translate(247.30 557.40) rotate(-45)" x="0" y="0" font-size="12" font-weight="bold" stroke="#231f20" stroke-width="0.22" text-anchor="end" fill="#231f20" dominant-baseline="central">-20</text>
<line x1="272.10" y1="545.50" x2="272.10" y2="550.30" stroke="#231f20" stroke-width="1.5"/>
<text transform="translate(273.00 557.40) rotate(-45)" x="0" y="0" font-size="12" font-weight="bold" stroke="#231f20" stroke-width="0.22" text-anchor="end" fill="#231f20" dominant-baseline="central">-10</text>
<line x1="298.30" y1="545.50" x2="298.30" y2="550.30" stroke="#231f20" stroke-width="1.5"/>
<text transform="translate(299.20 557.40) rotate(-45)" x="0" y="0" font-size="12" font-weight="bold" stroke="#231f20" stroke-width="0.22" text-anchor="end" fill="#231f20" dominant-baseline="central">0</text>
<line x1="323.70" y1="545.50" x2="323.70" y2="550.30" stroke="#231f20" stroke-width="1.5"/>
<text transform="translate(324.60 557.40) rotate(-45)" x="0" y="0" font-size="12" font-weight="bold" stroke="#231f20" stroke-width="0.22" text-anchor="end" fill="#231f20" dominant-baseline="central">10</text>
<line x1="349.30" y1="545.50" x2="349.30" y2="550.30" stroke="#231f20" stroke-width="1.5"/>
<text transform="translate(350.20 557.40) rotate(-45)" x="0" y="0" font-size="12" font-weight="bold" stroke="#231f20" stroke-width="0.22" text-anchor="end" fill="#231f20" dominant-baseline="central">20</text>
<line x1="373.70" y1="545.50" x2="373.70" y2="550.30" stroke="#231f20" stroke-width="1.5"/>
<text transform="translate(374.60 557.40) rotate(-45)" x="0" y="0" font-size="12" font-weight="bold" stroke="#231f20" stroke-width="0.22" text-anchor="end" fill="#231f20" dominant-baseline="central">30</text>
<line x1="398.70" y1="545.50" x2="398.70" y2="550.30" stroke="#231f20" stroke-width="1.5"/>
<text transform="translate(399.60 557.40) rotate(-45)" x="0" y="0" font-size="12" font-weight="bold" stroke="#231f20" stroke-width="0.22" text-anchor="end" fill="#231f20" dominant-baseline="central">40</text>
<line x1="423.60" y1="545.50" x2="423.60" y2="550.30" stroke="#231f20" stroke-width="1.5"/>
<text transform="translate(424.50 557.40) rotate(-45)" x="0" y="0" font-size="12" font-weight="bold" stroke="#231f20" stroke-width="0.22" text-anchor="end" fill="#231f20" dominant-baseline="central">50</text>
<line x1="447.90" y1="545.50" x2="447.90" y2="550.30" stroke="#231f20" stroke-width="1.5"/>
<text transform="translate(448.80 557.40) rotate(-45)" x="0" y="0" font-size="12" font-weight="bold" stroke="#231f20" stroke-width="0.22" text-anchor="end" fill="#231f20" dominant-baseline="central">60</text>
<line x1="473.50" y1="545.50" x2="473.50" y2="550.30" stroke="#231f20" stroke-width="1.5"/>
<text transform="translate(474.40 557.40) rotate(-45)" x="0" y="0" font-size="12" font-weight="bold" stroke="#231f20" stroke-width="0.22" text-anchor="end" fill="#231f20" dominant-baseline="central">70</text>
<text x="0" y="0" transform="translate(216.40 469.30) rotate(-90)" font-size="12.7" font-weight="bold" stroke="#231f20" stroke-width="0.22" text-anchor="middle" fill="#231f20" textLength="153.00" lengthAdjust="spacingAndGlyphs">fEPSP slope (% baseline)</text>
<text x="307.60" y="593.70" font-size="12.3" font-weight="bold" stroke="#231f20" stroke-width="0.22" text-anchor="start" fill="#231f20" textLength="62.50" lengthAdjust="spacingAndGlyphs">Time (min)</text>
<text x="315.65" y="396.90" font-size="11.8" font-weight="bold" stroke="#231f20" stroke-width="0.22" text-anchor="middle" fill="#231f20">PP-LFS</text>
<line x1="297.00" y1="441.90" x2="476.60" y2="441.90" stroke="#bcbec0" stroke-width="0.9" stroke-dasharray="1 2.6"/>
<path d="M246.40 444.41V450.50M243.50 444.41H249.30M243.50 450.50H249.30M248.97 441.36V449.49M246.07 441.36H251.87M246.07 449.49H251.87M251.54 439.84V447.96M248.64 439.84H254.44M248.64 447.96H254.44M254.11 440.34V448.47M251.21 440.34H257.01M251.21 448.47H257.01M256.68 440.85V448.98M253.78 440.85H259.58M253.78 448.98H259.58M259.25 443.39V449.49M256.35 443.39H262.15M256.35 449.49H262.15M261.82 445.42V451.52M258.92 445.42H264.72M258.92 451.52H264.72M264.39 442.88V451.01M261.49 442.88H267.29M261.49 451.01H267.29M266.96 440.85V448.98M264.06 440.85H269.86M264.06 448.98H269.86M269.53 440.34V448.47M266.63 440.34H272.43M266.63 448.47H272.43M272.10 441.36V449.49M269.20 441.36H275.00M269.20 449.49H275.00M274.72 439.33V449.49M271.82 439.33H277.62M271.82 449.49H277.62M277.34 439.84V450.00M274.44 439.84H280.24M274.44 450.00H280.24M279.96 441.36V449.49M277.06 441.36H282.86M277.06 449.49H282.86M282.58 442.38V450.50M279.68 442.38H285.48M279.68 450.50H285.48M285.20 445.42V453.55M282.30 445.42H288.10M282.30 453.55H288.10M287.82 443.90V460.16M284.92 443.90H290.72M284.92 460.16H290.72M290.44 441.36V449.49M287.54 441.36H293.34M287.54 449.49H293.34M293.06 437.80V445.93M290.16 437.80H295.96M290.16 445.93H295.96M295.68 437.80V445.93M292.78 437.80H298.58M292.78 445.93H298.58M298.30 437.80V443.90M295.40 437.80H301.20M295.40 443.90H301.20" stroke="#231f20" stroke-width="0.95" fill="none"/>
<circle cx="246.40" cy="447.46" r="3.35" fill="#231f20"/>
<circle cx="248.97" cy="445.42" r="3.35" fill="#231f20"/>
<circle cx="251.54" cy="443.90" r="3.35" fill="#231f20"/>
<circle cx="254.11" cy="444.41" r="3.35" fill="#231f20"/>
<circle cx="256.68" cy="444.92" r="3.35" fill="#231f20"/>
<circle cx="259.25" cy="446.44" r="3.35" fill="#231f20"/>
<circle cx="261.82" cy="448.47" r="3.35" fill="#231f20"/>
<circle cx="264.39" cy="446.95" r="3.35" fill="#231f20"/>
<circle cx="266.96" cy="444.92" r="3.35" fill="#231f20"/>
<circle cx="269.53" cy="444.41" r="3.35" fill="#231f20"/>
<circle cx="272.10" cy="445.42" r="3.35" fill="#231f20"/>
<circle cx="274.72" cy="444.41" r="3.35" fill="#231f20"/>
<circle cx="277.34" cy="444.92" r="3.35" fill="#231f20"/>
<circle cx="279.96" cy="445.42" r="3.35" fill="#231f20"/>
<circle cx="282.58" cy="446.44" r="3.35" fill="#231f20"/>
<circle cx="285.20" cy="449.49" r="3.35" fill="#231f20"/>
<circle cx="287.82" cy="452.03" r="3.35" fill="#231f20"/>
<circle cx="290.44" cy="445.42" r="3.35" fill="#231f20"/>
<circle cx="293.06" cy="441.87" r="3.35" fill="#231f20"/>
<circle cx="295.68" cy="441.87" r="3.35" fill="#231f20"/>
<circle cx="298.30" cy="440.85" r="3.35" fill="#231f20"/>
<path d="M246.40 446.95V459.14M243.50 446.95H249.30M243.50 459.14H249.30M248.97 442.88V453.04M246.07 442.88H251.87M246.07 453.04H251.87M251.54 440.45V465.64M248.64 440.45H254.44M248.64 465.64H254.44M254.11 441.87V454.06M251.21 441.87H257.01M251.21 454.06H257.01M256.68 439.84V450.00M253.78 439.84H259.58M253.78 450.00H259.58M259.25 436.79V446.95M256.35 436.79H262.15M256.35 446.95H262.15M261.82 432.72V440.85M258.92 432.72H264.72M258.92 440.85H264.72M264.39 435.77V445.93M261.49 435.77H267.29M261.49 445.93H267.29M266.96 433.74V443.90M264.06 433.74H269.86M264.06 443.90H269.86M269.53 434.76V446.95M266.63 434.76H272.43M266.63 446.95H272.43M272.10 430.18V440.34M269.20 430.18H275.00M269.20 440.34H275.00M274.72 430.18V439.33M271.82 430.18H277.62M271.82 439.33H277.62M277.34 429.68V435.77M274.44 429.68H280.24M274.44 435.77H280.24M279.96 433.74V443.90M277.06 433.74H282.86M277.06 443.90H282.86M282.58 435.77V445.93M279.68 435.77H285.48M279.68 445.93H285.48M285.20 437.80V447.96M282.30 437.80H288.10M282.30 447.96H288.10M287.82 439.84V450.00M284.92 439.84H290.72M284.92 450.00H290.72M290.44 442.88V453.04M287.54 442.88H293.34M287.54 453.04H293.34M293.06 441.87V452.03M290.16 441.87H295.96M290.16 452.03H295.96M295.68 445.42V457.62M292.78 445.42H298.58M292.78 457.62H298.58" stroke="#231f20" stroke-width="0.95" fill="none"/>
<path d="M242.90 449.94H249.90L246.40 456.64Z" fill="#fff" stroke="#231f20" stroke-width="0.95" stroke-linejoin="miter"/>
<path d="M245.47 444.86H252.47L248.97 451.56Z" fill="#fff" stroke="#231f20" stroke-width="0.95" stroke-linejoin="miter"/>
<path d="M248.04 449.94H255.04L251.54 456.64Z" fill="#fff" stroke="#231f20" stroke-width="0.95" stroke-linejoin="miter"/>
<path d="M250.61 444.86H257.61L254.11 451.56Z" fill="#fff" stroke="#231f20" stroke-width="0.95" stroke-linejoin="miter"/>
<path d="M253.18 441.82H260.18L256.68 448.52Z" fill="#fff" stroke="#231f20" stroke-width="0.95" stroke-linejoin="miter"/>
<path d="M255.75 438.77H262.75L259.25 445.47Z" fill="#fff" stroke="#231f20" stroke-width="0.95" stroke-linejoin="miter"/>
<path d="M258.32 433.69H265.32L261.82 440.39Z" fill="#fff" stroke="#231f20" stroke-width="0.95" stroke-linejoin="miter"/>
<path d="M260.89 437.75H267.89L264.39 444.45Z" fill="#fff" stroke="#231f20" stroke-width="0.95" stroke-linejoin="miter"/>
<path d="M263.46 435.72H270.46L266.96 442.42Z" fill="#fff" stroke="#231f20" stroke-width="0.95" stroke-linejoin="miter"/>
<path d="M266.03 437.75H273.03L269.53 444.45Z" fill="#fff" stroke="#231f20" stroke-width="0.95" stroke-linejoin="miter"/>
<path d="M268.60 432.16H275.60L272.10 438.86Z" fill="#fff" stroke="#231f20" stroke-width="0.95" stroke-linejoin="miter"/>
<path d="M271.22 431.66H278.22L274.72 438.36Z" fill="#fff" stroke="#231f20" stroke-width="0.95" stroke-linejoin="miter"/>
<path d="M273.84 429.62H280.84L277.34 436.32Z" fill="#fff" stroke="#231f20" stroke-width="0.95" stroke-linejoin="miter"/>
<path d="M276.46 435.72H283.46L279.96 442.42Z" fill="#fff" stroke="#231f20" stroke-width="0.95" stroke-linejoin="miter"/>
<path d="M279.08 437.75H286.08L282.58 444.45Z" fill="#fff" stroke="#231f20" stroke-width="0.95" stroke-linejoin="miter"/>
<path d="M281.70 439.78H288.70L285.20 446.48Z" fill="#fff" stroke="#231f20" stroke-width="0.95" stroke-linejoin="miter"/>
<path d="M284.32 441.82H291.32L287.82 448.52Z" fill="#fff" stroke="#231f20" stroke-width="0.95" stroke-linejoin="miter"/>
<path d="M286.94 444.86H293.94L290.44 451.56Z" fill="#fff" stroke="#231f20" stroke-width="0.95" stroke-linejoin="miter"/>
<path d="M289.56 443.85H296.56L293.06 450.55Z" fill="#fff" stroke="#231f20" stroke-width="0.95" stroke-linejoin="miter"/>
<path d="M292.18 448.42H299.18L295.68 455.12Z" fill="#fff" stroke="#231f20" stroke-width="0.95" stroke-linejoin="miter"/>
<path d="M339.06 477.43V518.07M336.16 477.43H341.96M336.16 518.07H341.96M341.62 474.38V498.76M338.72 474.38H344.52M338.72 498.76H344.52M344.18 471.84V492.16M341.28 471.84H347.08M341.28 492.16H347.08M346.74 467.27V483.52M343.84 467.27H349.64M343.84 483.52H349.64M349.30 465.24V483.52M346.40 465.24H352.20M346.40 483.52H352.20M351.74 468.28V482.51M348.84 468.28H354.64M348.84 482.51H354.64M354.18 474.38V490.64M351.28 474.38H357.08M351.28 490.64H357.08M356.62 473.36V489.62M353.72 473.36H359.52M353.72 489.62H359.52M359.06 471.33V485.56M356.16 471.33H361.96M356.16 485.56H361.96M361.50 471.33V485.56M358.60 471.33H364.40M358.60 485.56H364.40M363.94 470.82V485.05M361.04 470.82H366.84M361.04 485.05H366.84M366.38 472.35V484.54M363.48 472.35H369.28M363.48 484.54H369.28M368.82 471.33V485.56M365.92 471.33H371.72M365.92 485.56H371.72M371.26 464.22V478.44M368.36 464.22H374.16M368.36 478.44H374.16M373.70 469.30V481.49M370.80 469.30H376.60M370.80 481.49H376.60M376.20 458.12V474.38M373.30 458.12H379.10M373.30 474.38H379.10M378.70 445.93V472.35M375.80 445.93H381.60M375.80 472.35H381.60M381.20 456.60V470.82M378.30 456.60H384.10M378.30 470.82H384.10M383.70 456.60V470.82M380.80 456.60H386.60M380.80 470.82H386.60M386.20 453.04V469.30M383.30 453.04H389.10M383.30 469.30H389.10M388.70 448.98V469.30M385.80 448.98H391.60M385.80 469.30H391.60M391.20 449.49V467.78M388.30 449.49H394.10M388.30 467.78H394.10M393.70 447.96V468.28M390.80 447.96H396.60M390.80 468.28H396.60M396.20 449.49V467.78M393.30 449.49H399.10M393.30 467.78H399.10M398.70 447.96V468.28M395.80 447.96H401.60M395.80 468.28H401.60M401.19 452.03V468.28M398.29 452.03H404.09M398.29 468.28H404.09M403.68 448.47V466.76M400.78 448.47H406.58M400.78 466.76H406.58M406.17 451.01V467.27M403.27 451.01H409.07M403.27 467.27H409.07M408.66 452.03V468.28M405.76 452.03H411.56M405.76 468.28H411.56M411.15 455.08V469.30M408.25 455.08H414.05M408.25 469.30H414.05M413.64 454.06V468.28M410.74 454.06H416.54M410.74 468.28H416.54M416.13 452.03V466.25M413.23 452.03H419.03M413.23 466.25H419.03M418.62 454.06V466.25M415.72 454.06H421.52M415.72 466.25H421.52M421.11 455.08V467.27M418.21 455.08H424.01M418.21 467.27H424.01M423.60 455.08V467.27M420.70 455.08H426.50M420.70 467.27H426.50M426.03 459.14V469.30M423.13 459.14H428.93M423.13 469.30H428.93M428.46 459.65V469.81M425.56 459.65H431.36M425.56 469.81H431.36M430.89 459.14V469.30M427.99 459.14H433.79M427.99 469.30H433.79M433.32 457.62V471.84M430.42 457.62H436.22M430.42 471.84H436.22M435.75 449.69V459.85M432.85 449.69H438.65M432.85 459.85H438.65M438.18 454.06V466.25M435.28 454.06H441.08M435.28 466.25H441.08M440.61 453.55V465.74M437.71 453.55H443.51M437.71 465.74H443.51M443.04 460.16V470.32M440.14 460.16H445.94M440.14 470.32H445.94M445.47 459.14V469.30M442.57 459.14H448.37M442.57 469.30H448.37M447.90 453.55V463.71M445.00 453.55H450.80M445.00 463.71H450.80M450.46 455.08V465.24M447.56 455.08H453.36M447.56 465.24H453.36M453.02 455.08V465.24M450.12 455.08H455.92M450.12 465.24H455.92M455.58 458.12V468.28M452.68 458.12H458.48M452.68 468.28H458.48M458.14 466.25V476.41M455.24 466.25H461.04M455.24 476.41H461.04M460.70 460.16V470.32M457.80 460.16H463.60M457.80 470.32H463.60M463.26 459.65V469.81M460.36 459.65H466.16M460.36 469.81H466.16M465.82 457.62V467.78M462.92 457.62H468.72M462.92 467.78H468.72M468.38 455.08V465.24M465.48 455.08H471.28M465.48 465.24H471.28M470.94 453.55V463.71M468.04 453.55H473.84M468.04 463.71H473.84M473.50 450.00V462.19M470.60 450.00H476.40M470.60 462.19H476.40" stroke="#231f20" stroke-width="0.95" fill="none"/>
<circle cx="339.06" cy="497.75" r="3.35" fill="#231f20"/>
<circle cx="341.62" cy="486.57" r="3.35" fill="#231f20"/>
<circle cx="344.18" cy="482.00" r="3.35" fill="#231f20"/>
<circle cx="346.74" cy="475.40" r="3.35" fill="#231f20"/>
<circle cx="349.30" cy="474.38" r="3.35" fill="#231f20"/>
<circle cx="351.74" cy="475.40" r="3.35" fill="#231f20"/>
<circle cx="354.18" cy="482.51" r="3.35" fill="#231f20"/>
<circle cx="356.62" cy="481.49" r="3.35" fill="#231f20"/>
<circle cx="359.06" cy="478.44" r="3.35" fill="#231f20"/>
<circle cx="361.50" cy="478.44" r="3.35" fill="#231f20"/>
<circle cx="363.94" cy="477.94" r="3.35" fill="#231f20"/>
<circle cx="366.38" cy="478.44" r="3.35" fill="#231f20"/>
<circle cx="368.82" cy="478.44" r="3.35" fill="#231f20"/>
<circle cx="371.26" cy="471.33" r="3.35" fill="#231f20"/>
<circle cx="373.70" cy="475.40" r="3.35" fill="#231f20"/>
<circle cx="376.20" cy="466.25" r="3.35" fill="#231f20"/>
<circle cx="378.70" cy="459.14" r="3.35" fill="#231f20"/>
<circle cx="381.20" cy="463.71" r="3.35" fill="#231f20"/>
<circle cx="383.70" cy="463.71" r="3.35" fill="#231f20"/>
<circle cx="386.20" cy="461.17" r="3.35" fill="#231f20"/>
<circle cx="388.70" cy="459.14" r="3.35" fill="#231f20"/>
<circle cx="391.20" cy="458.63" r="3.35" fill="#231f20"/>
<circle cx="393.70" cy="458.12" r="3.35" fill="#231f20"/>
<circle cx="396.20" cy="458.63" r="3.35" fill="#231f20"/>
<circle cx="398.70" cy="458.12" r="3.35" fill="#231f20"/>
<circle cx="401.19" cy="460.16" r="3.35" fill="#231f20"/>
<circle cx="403.68" cy="457.62" r="3.35" fill="#231f20"/>
<circle cx="406.17" cy="459.14" r="3.35" fill="#231f20"/>
<circle cx="408.66" cy="460.16" r="3.35" fill="#231f20"/>
<circle cx="411.15" cy="462.19" r="3.35" fill="#231f20"/>
<circle cx="413.64" cy="461.17" r="3.35" fill="#231f20"/>
<circle cx="416.13" cy="459.14" r="3.35" fill="#231f20"/>
<circle cx="418.62" cy="460.16" r="3.35" fill="#231f20"/>
<circle cx="421.11" cy="461.17" r="3.35" fill="#231f20"/>
<circle cx="423.60" cy="461.17" r="3.35" fill="#231f20"/>
<circle cx="426.03" cy="464.22" r="3.35" fill="#231f20"/>
<circle cx="428.46" cy="464.73" r="3.35" fill="#231f20"/>
<circle cx="430.89" cy="464.22" r="3.35" fill="#231f20"/>
<circle cx="433.32" cy="464.73" r="3.35" fill="#231f20"/>
<circle cx="435.75" cy="454.77" r="3.35" fill="#231f20"/>
<circle cx="438.18" cy="460.16" r="3.35" fill="#231f20"/>
<circle cx="440.61" cy="459.65" r="3.35" fill="#231f20"/>
<circle cx="443.04" cy="465.24" r="3.35" fill="#231f20"/>
<circle cx="445.47" cy="464.22" r="3.35" fill="#231f20"/>
<circle cx="447.90" cy="458.63" r="3.35" fill="#231f20"/>
<circle cx="450.46" cy="460.16" r="3.35" fill="#231f20"/>
<circle cx="453.02" cy="460.16" r="3.35" fill="#231f20"/>
<circle cx="455.58" cy="463.20" r="3.35" fill="#231f20"/>
<circle cx="458.14" cy="471.33" r="3.35" fill="#231f20"/>
<circle cx="460.70" cy="465.24" r="3.35" fill="#231f20"/>
<circle cx="463.26" cy="464.73" r="3.35" fill="#231f20"/>
<circle cx="465.82" cy="462.70" r="3.35" fill="#231f20"/>
<circle cx="468.38" cy="460.16" r="3.35" fill="#231f20"/>
<circle cx="470.94" cy="458.63" r="3.35" fill="#231f20"/>
<circle cx="473.50" cy="456.09" r="3.35" fill="#231f20"/>
<path d="M346.74 457.11V544.90M343.84 457.11H349.64M349.30 457.11V544.90M346.40 457.11H352.20M351.74 458.12V544.90M348.84 458.12H354.64M354.18 461.17V544.90M351.28 461.17H357.08M356.62 462.19V544.90M353.72 462.19H359.52M359.06 462.19V544.90M356.16 462.19H361.96M361.50 464.73V544.90M358.60 464.73H364.40M363.94 467.78V544.90M361.04 467.78H366.84M366.38 467.78V544.90M363.48 467.78H369.28M368.82 466.76V544.90M365.92 466.76H371.72M371.26 459.14V536.36M368.36 459.14H374.16M368.36 536.36H374.16M373.70 460.16V543.47M370.80 460.16H376.60M370.80 543.47H376.60M376.20 457.62V532.80M373.30 457.62H379.10M373.30 532.80H379.10M378.70 461.17V534.32M375.80 461.17H381.60M375.80 534.32H381.60M381.20 462.19V535.34M378.30 462.19H384.10M378.30 535.34H384.10M383.70 462.70V529.75M380.80 462.70H386.60M380.80 529.75H386.60M386.20 456.09V523.15M383.30 456.09H389.10M383.30 523.15H389.10M388.70 455.58V522.64M385.80 455.58H391.60M385.80 522.64H391.60M391.20 453.55V522.64M388.30 453.55H394.10M388.30 522.64H394.10M393.70 452.03V519.08M390.80 452.03H396.60M390.80 519.08H396.60M396.20 450.50V513.50M393.30 450.50H399.10M393.30 513.50H399.10M398.70 458.12V519.08M395.80 458.12H401.60M395.80 519.08H401.60M401.19 466.25V523.15M398.29 466.25H404.09M398.29 523.15H404.09M403.68 459.65V518.58M400.78 459.65H406.58M400.78 518.58H406.58M406.17 459.14V518.07M403.27 459.14H409.07M403.27 518.07H409.07M408.66 454.57V513.50M405.76 454.57H411.56M405.76 513.50H411.56M411.15 443.39V510.45M408.25 443.39H414.05M408.25 510.45H414.05M413.64 439.84V512.99M410.74 439.84H416.54M410.74 512.99H416.54M416.13 433.74V510.96M413.23 433.74H419.03M413.23 510.96H419.03M418.62 436.48V503.54M415.72 436.48H421.52M415.72 503.54H421.52M421.11 439.84V508.92M418.21 439.84H424.01M418.21 508.92H424.01M423.60 436.79V511.97M420.70 436.79H426.50M420.70 511.97H426.50M426.03 440.85V507.91M423.13 440.85H428.93M423.13 507.91H428.93M428.46 476.41V500.80M425.56 476.41H431.36M425.56 500.80H431.36M430.89 474.38V504.86M427.99 474.38H433.79M427.99 504.86H433.79M433.32 480.98V507.40M430.42 480.98H436.22M430.42 507.40H436.22M435.75 484.03V508.42M432.85 484.03H438.65M432.85 508.42H438.65M438.18 487.59V509.94M435.28 487.59H441.08M435.28 509.94H441.08M440.61 487.08V511.46M437.71 487.08H443.51M437.71 511.46H443.51M443.04 492.67V519.08M440.14 492.67H445.94M440.14 519.08H445.94M445.47 494.70V519.08M442.57 494.70H448.37M442.57 519.08H448.37M447.90 493.68V520.10M445.00 493.68H450.80M445.00 520.10H450.80M450.46 499.27V523.66M447.56 499.27H453.36M447.56 523.66H453.36M453.02 500.29V522.64M450.12 500.29H455.92M450.12 522.64H455.92M455.58 492.67V519.08M452.68 492.67H458.48M452.68 519.08H458.48M458.14 497.75V524.16M455.24 497.75H461.04M455.24 524.16H461.04M460.70 500.29V522.64M457.80 500.29H463.60M457.80 522.64H463.60M463.26 496.73V527.21M460.36 496.73H466.16M460.36 527.21H466.16M465.82 505.37V525.69M462.92 505.37H468.72M462.92 525.69H468.72M468.38 500.80V521.12M465.48 500.80H471.28M465.48 521.12H471.28M470.94 497.75V522.13M468.04 497.75H473.84M468.04 522.13H473.84M473.50 498.26V518.58M470.60 498.26H476.40M470.60 518.58H476.40" stroke="#231f20" stroke-width="0.95" fill="none"/>
<path d="M343.24 538.34H350.24L346.74 545.04Z" fill="#fff" stroke="#231f20" stroke-width="0.95" stroke-linejoin="miter"/>
<path d="M345.80 534.27H352.80L349.30 540.97Z" fill="#fff" stroke="#231f20" stroke-width="0.95" stroke-linejoin="miter"/>
<path d="M348.24 526.14H355.24L351.74 532.84Z" fill="#fff" stroke="#231f20" stroke-width="0.95" stroke-linejoin="miter"/>
<path d="M350.68 521.06H357.68L354.18 527.76Z" fill="#fff" stroke="#231f20" stroke-width="0.95" stroke-linejoin="miter"/>
<path d="M353.12 505.82H360.12L356.62 512.52Z" fill="#fff" stroke="#231f20" stroke-width="0.95" stroke-linejoin="miter"/>
<path d="M355.56 502.78H362.56L359.06 509.48Z" fill="#fff" stroke="#231f20" stroke-width="0.95" stroke-linejoin="miter"/>
<path d="M358.00 504.30H365.00L361.50 511.00Z" fill="#fff" stroke="#231f20" stroke-width="0.95" stroke-linejoin="miter"/>
<path d="M360.44 507.35H367.44L363.94 514.05Z" fill="#fff" stroke="#231f20" stroke-width="0.95" stroke-linejoin="miter"/>
<path d="M362.88 505.32H369.88L366.38 512.02Z" fill="#fff" stroke="#231f20" stroke-width="0.95" stroke-linejoin="miter"/>
<path d="M365.32 503.28H372.32L368.82 509.98Z" fill="#fff" stroke="#231f20" stroke-width="0.95" stroke-linejoin="miter"/>
<path d="M367.76 494.65H374.76L371.26 501.35Z" fill="#fff" stroke="#231f20" stroke-width="0.95" stroke-linejoin="miter"/>
<path d="M370.20 498.71H377.20L373.70 505.41Z" fill="#fff" stroke="#231f20" stroke-width="0.95" stroke-linejoin="miter"/>
<path d="M372.70 492.11H379.70L376.20 498.81Z" fill="#fff" stroke="#231f20" stroke-width="0.95" stroke-linejoin="miter"/>
<path d="M375.20 494.65H382.20L378.70 501.35Z" fill="#fff" stroke="#231f20" stroke-width="0.95" stroke-linejoin="miter"/>
<path d="M377.70 495.66H384.70L381.20 502.36Z" fill="#fff" stroke="#231f20" stroke-width="0.95" stroke-linejoin="miter"/>
<path d="M380.20 493.12H387.20L383.70 499.82Z" fill="#fff" stroke="#231f20" stroke-width="0.95" stroke-linejoin="miter"/>
<path d="M382.70 486.52H389.70L386.20 493.22Z" fill="#fff" stroke="#231f20" stroke-width="0.95" stroke-linejoin="miter"/>
<path d="M385.20 486.01H392.20L388.70 492.71Z" fill="#fff" stroke="#231f20" stroke-width="0.95" stroke-linejoin="miter"/>
<path d="M387.70 485.00H394.70L391.20 491.70Z" fill="#fff" stroke="#231f20" stroke-width="0.95" stroke-linejoin="miter"/>
<path d="M390.20 482.46H397.20L393.70 489.16Z" fill="#fff" stroke="#231f20" stroke-width="0.95" stroke-linejoin="miter"/>
<path d="M392.70 478.90H399.70L396.20 485.60Z" fill="#fff" stroke="#231f20" stroke-width="0.95" stroke-linejoin="miter"/>
<path d="M395.20 485.50H402.20L398.70 492.20Z" fill="#fff" stroke="#231f20" stroke-width="0.95" stroke-linejoin="miter"/>
<path d="M397.69 491.60H404.69L401.19 498.30Z" fill="#fff" stroke="#231f20" stroke-width="0.95" stroke-linejoin="miter"/>
<path d="M400.18 486.01H407.18L403.68 492.71Z" fill="#fff" stroke="#231f20" stroke-width="0.95" stroke-linejoin="miter"/>
<path d="M402.67 485.50H409.67L406.17 492.20Z" fill="#fff" stroke="#231f20" stroke-width="0.95" stroke-linejoin="miter"/>
<path d="M405.16 480.93H412.16L408.66 487.63Z" fill="#fff" stroke="#231f20" stroke-width="0.95" stroke-linejoin="miter"/>
<path d="M407.65 473.82H414.65L411.15 480.52Z" fill="#fff" stroke="#231f20" stroke-width="0.95" stroke-linejoin="miter"/>
<path d="M410.14 473.31H417.14L413.64 480.01Z" fill="#fff" stroke="#231f20" stroke-width="0.95" stroke-linejoin="miter"/>
<path d="M412.63 469.25H419.63L416.13 475.95Z" fill="#fff" stroke="#231f20" stroke-width="0.95" stroke-linejoin="miter"/>
<path d="M415.12 466.91H422.12L418.62 473.61Z" fill="#fff" stroke="#231f20" stroke-width="0.95" stroke-linejoin="miter"/>
<path d="M417.61 471.28H424.61L421.11 477.98Z" fill="#fff" stroke="#231f20" stroke-width="0.95" stroke-linejoin="miter"/>
<path d="M420.10 471.28H427.10L423.60 477.98Z" fill="#fff" stroke="#231f20" stroke-width="0.95" stroke-linejoin="miter"/>
<path d="M422.53 471.28H429.53L426.03 477.98Z" fill="#fff" stroke="#231f20" stroke-width="0.95" stroke-linejoin="miter"/>
<path d="M424.96 485.50H431.96L428.46 492.20Z" fill="#fff" stroke="#231f20" stroke-width="0.95" stroke-linejoin="miter"/>
<path d="M427.39 486.52H434.39L430.89 493.22Z" fill="#fff" stroke="#231f20" stroke-width="0.95" stroke-linejoin="miter"/>
<path d="M429.82 491.09H436.82L433.32 497.79Z" fill="#fff" stroke="#231f20" stroke-width="0.95" stroke-linejoin="miter"/>
<path d="M432.25 493.12H439.25L435.75 499.82Z" fill="#fff" stroke="#231f20" stroke-width="0.95" stroke-linejoin="miter"/>
<path d="M434.68 495.66H441.68L438.18 502.36Z" fill="#fff" stroke="#231f20" stroke-width="0.95" stroke-linejoin="miter"/>
<path d="M437.11 496.17H444.11L440.61 502.87Z" fill="#fff" stroke="#231f20" stroke-width="0.95" stroke-linejoin="miter"/>
<path d="M439.54 502.78H446.54L443.04 509.48Z" fill="#fff" stroke="#231f20" stroke-width="0.95" stroke-linejoin="miter"/>
<path d="M441.97 503.79H448.97L445.47 510.49Z" fill="#fff" stroke="#231f20" stroke-width="0.95" stroke-linejoin="miter"/>
<path d="M444.40 503.79H451.40L447.90 510.49Z" fill="#fff" stroke="#231f20" stroke-width="0.95" stroke-linejoin="miter"/>
<path d="M446.96 508.36H453.96L450.46 515.06Z" fill="#fff" stroke="#231f20" stroke-width="0.95" stroke-linejoin="miter"/>
<path d="M449.52 508.36H456.52L453.02 515.06Z" fill="#fff" stroke="#231f20" stroke-width="0.95" stroke-linejoin="miter"/>
<path d="M452.08 502.78H459.08L455.58 509.48Z" fill="#fff" stroke="#231f20" stroke-width="0.95" stroke-linejoin="miter"/>
<path d="M454.64 507.86H461.64L458.14 514.56Z" fill="#fff" stroke="#231f20" stroke-width="0.95" stroke-linejoin="miter"/>
<path d="M457.20 508.36H464.20L460.70 515.06Z" fill="#fff" stroke="#231f20" stroke-width="0.95" stroke-linejoin="miter"/>
<path d="M459.76 508.87H466.76L463.26 515.57Z" fill="#fff" stroke="#231f20" stroke-width="0.95" stroke-linejoin="miter"/>
<path d="M462.32 512.43H469.32L465.82 519.13Z" fill="#fff" stroke="#231f20" stroke-width="0.95" stroke-linejoin="miter"/>
<path d="M464.88 507.86H471.88L468.38 514.56Z" fill="#fff" stroke="#231f20" stroke-width="0.95" stroke-linejoin="miter"/>
<path d="M467.44 506.84H474.44L470.94 513.54Z" fill="#fff" stroke="#231f20" stroke-width="0.95" stroke-linejoin="miter"/>
<path d="M470.00 505.32H477.00L473.50 512.02Z" fill="#fff" stroke="#231f20" stroke-width="0.95" stroke-linejoin="miter"/>
<rect x="297.00" y="402.70" width="35.00" height="142.20" fill="#dadbdd" fill-opacity="0.58"/>
<line x1="297.00" y1="404.70" x2="297.00" y2="544.90" stroke="#c9cbcd" stroke-width="0.9" stroke-dasharray="1 3.7"/>
<line x1="332.00" y1="404.70" x2="332.00" y2="544.90" stroke="#c9cbcd" stroke-width="0.9" stroke-dasharray="1 3.7"/>
<line x1="297.00" y1="402.00" x2="332.20" y2="402.00" stroke="#231f20" stroke-width="2.0"/>
<circle cx="375.00" cy="401.70" r="3.35" fill="#231f20"/>
<path d="M371.90 413.60H378.10L375.00 419.70Z" fill="#fff" stroke="#231f20" stroke-width="0.9"/>
<text x="393.30" y="406.90" font-size="14.6" text-anchor="start" fill="#231f20" textLength="22.40" lengthAdjust="spacingAndGlyphs" stroke="#231f20" stroke-width="0.2">WT</text>
<text x="393.30" y="423.70" font-size="14.6" text-anchor="start" fill="#231f20" textLength="32.80" lengthAdjust="spacingAndGlyphs" stroke="#231f20" stroke-width="0.2">Npc1</text>
<text x="426.90" y="418.00" font-size="11.0" text-anchor="start" fill="#231f20" textLength="38.00" lengthAdjust="spacingAndGlyphs">nmf164</text>
<line x1="484.80" y1="463.90" x2="484.80" y2="514.10" stroke="#231f20" stroke-width="0.9"/>
<text x="0" y="0" transform="translate(483.60 490.00) rotate(90)" font-size="18" font-weight="bold" stroke="#231f20" stroke-width="0.22" text-anchor="middle" fill="#231f20" letter-spacing="1.2">**</text>
<line x1="246.00" y1="627.90" x2="246.00" y2="777.10" stroke="#231f20" stroke-width="1.5"/>
<line x1="245.30" y1="776.40" x2="448.60" y2="776.40" stroke="#231f20" stroke-width="1.5"/>
<line x1="241.40" y1="628.60" x2="246.00" y2="628.60" stroke="#231f20" stroke-width="1.5"/>
<text x="240.20" y="633.00" font-size="12" font-weight="bold" stroke="#231f20" stroke-width="0.22" text-anchor="end" fill="#231f20">1.5</text>
<line x1="241.40" y1="677.87" x2="246.00" y2="677.87" stroke="#231f20" stroke-width="1.5"/>
<text x="240.20" y="682.27" font-size="12" font-weight="bold" stroke="#231f20" stroke-width="0.22" text-anchor="end" fill="#231f20">1.0</text>
<line x1="241.40" y1="727.13" x2="246.00" y2="727.13" stroke="#231f20" stroke-width="1.5"/>
<text x="240.20" y="731.53" font-size="12" font-weight="bold" stroke="#231f20" stroke-width="0.22" text-anchor="end" fill="#231f20">0.5</text>
<line x1="241.40" y1="776.40" x2="246.00" y2="776.40" stroke="#231f20" stroke-width="1.5"/>
<text x="240.20" y="780.80" font-size="12" font-weight="bold" stroke="#231f20" stroke-width="0.22" text-anchor="end" fill="#231f20">0.0</text>
<line x1="246.40" y1="776.40" x2="246.40" y2="781.20" stroke="#231f20" stroke-width="1.5"/>
<text transform="translate(247.30 788.30) rotate(-45)" x="0" y="0" font-size="12" font-weight="bold" stroke="#231f20" stroke-width="0.22" text-anchor="end" fill="#231f20" dominant-baseline="central">-20</text>
<line x1="272.10" y1="776.40" x2="272.10" y2="781.20" stroke="#231f20" stroke-width="1.5"/>
<text transform="translate(273.00 788.30) rotate(-45)" x="0" y="0" font-size="12" font-weight="bold" stroke="#231f20" stroke-width="0.22" text-anchor="end" fill="#231f20" dominant-baseline="central">-10</text>
<line x1="298.30" y1="776.40" x2="298.30" y2="781.20" stroke="#231f20" stroke-width="1.5"/>
<text transform="translate(299.20 788.30) rotate(-45)" x="0" y="0" font-size="12" font-weight="bold" stroke="#231f20" stroke-width="0.22" text-anchor="end" fill="#231f20" dominant-baseline="central">0</text>
<line x1="323.70" y1="776.40" x2="323.70" y2="781.20" stroke="#231f20" stroke-width="1.5"/>
<text transform="translate(324.60 788.30) rotate(-45)" x="0" y="0" font-size="12" font-weight="bold" stroke="#231f20" stroke-width="0.22" text-anchor="end" fill="#231f20" dominant-baseline="central">10</text>
<line x1="349.30" y1="776.40" x2="349.30" y2="781.20" stroke="#231f20" stroke-width="1.5"/>
<text transform="translate(350.20 788.30) rotate(-45)" x="0" y="0" font-size="12" font-weight="bold" stroke="#231f20" stroke-width="0.22" text-anchor="end" fill="#231f20" dominant-baseline="central">20</text>
<line x1="373.70" y1="776.40" x2="373.70" y2="781.20" stroke="#231f20" stroke-width="1.5"/>
<text transform="translate(374.60 788.30) rotate(-45)" x="0" y="0" font-size="12" font-weight="bold" stroke="#231f20" stroke-width="0.22" text-anchor="end" fill="#231f20" dominant-baseline="central">30</text>
<line x1="398.70" y1="776.40" x2="398.70" y2="781.20" stroke="#231f20" stroke-width="1.5"/>
<text transform="translate(399.60 788.30) rotate(-45)" x="0" y="0" font-size="12" font-weight="bold" stroke="#231f20" stroke-width="0.22" text-anchor="end" fill="#231f20" dominant-baseline="central">40</text>
<line x1="423.60" y1="776.40" x2="423.60" y2="781.20" stroke="#231f20" stroke-width="1.5"/>
<text transform="translate(424.50 788.30) rotate(-45)" x="0" y="0" font-size="12" font-weight="bold" stroke="#231f20" stroke-width="0.22" text-anchor="end" fill="#231f20" dominant-baseline="central">50</text>
<line x1="447.90" y1="776.40" x2="447.90" y2="781.20" stroke="#231f20" stroke-width="1.5"/>
<text transform="translate(448.80 788.30) rotate(-45)" x="0" y="0" font-size="12" font-weight="bold" stroke="#231f20" stroke-width="0.22" text-anchor="end" fill="#231f20" dominant-baseline="central">60</text>
<text x="0" y="0" transform="translate(216.40 702.50) rotate(-90)" font-size="12.7" font-weight="bold" stroke="#231f20" stroke-width="0.22" text-anchor="middle" fill="#231f20" textLength="153.00" lengthAdjust="spacingAndGlyphs">fEPSP slope (% baseline)</text>
<text x="315.20" y="823.50" font-size="12.3" font-weight="bold" stroke="#231f20" stroke-width="0.22" text-anchor="start" fill="#231f20" textLength="62.50" lengthAdjust="spacingAndGlyphs">Time (min)</text>
<text x="322.05" y="633.20" font-size="11.8" font-weight="bold" stroke="#231f20" stroke-width="0.22" text-anchor="middle" fill="#231f20">DHPG</text>
<path d="M246.40 678.15V683.97M243.50 678.15H249.30M243.50 683.97H249.30M248.97 677.50V683.51M246.07 677.50H251.87M246.07 683.51H251.87M251.54 679.19V684.51M248.64 679.19H254.44M248.64 684.51H254.44M254.11 679.27V683.97M251.21 679.27H257.01M251.21 683.97H257.01M256.68 678.73V685.03M253.78 678.73H259.58M253.78 685.03H259.58M259.25 678.73V684.56M256.35 678.73H262.15M256.35 684.56H262.15M261.82 678.05V684.24M258.92 678.05H264.72M258.92 684.24H264.72M264.39 677.70V682.18M261.49 677.70H267.29M261.49 682.18H267.29M266.96 679.10V684.21M264.06 679.10H269.86M264.06 684.21H269.86M269.53 677.01V681.68M266.63 677.01H272.43M266.63 681.68H272.43M272.10 676.56V681.14M269.20 676.56H275.00M269.20 681.14H275.00M274.72 675.00V680.73M271.82 675.00H277.62M271.82 680.73H277.62M277.34 673.10V678.69M274.44 673.10H280.24M274.44 678.69H280.24M279.96 669.80V676.08M277.06 669.80H282.86M277.06 676.08H282.86M282.58 668.92V673.02M279.68 668.92H285.48M279.68 673.02H285.48M285.20 665.51V676.43M282.30 665.51H288.10M282.30 676.43H288.10M287.82 664.08V676.88M284.92 664.08H290.72M284.92 676.88H290.72M290.44 664.61V677.33M287.54 664.61H293.34M287.54 677.33H293.34M293.06 665.18V676.76M290.16 665.18H295.96M290.16 676.76H295.96M295.68 664.99V676.94M292.78 664.99H298.58M292.78 676.94H298.58M298.30 666.74V679.14M295.40 666.74H301.20M295.40 679.14H301.20M300.84 665.24V690.49M297.94 665.24H303.74M297.94 690.49H303.74M303.38 671.81V697.72M300.48 671.81H306.28M300.48 697.72H306.28M305.92 679.76V705.54M303.02 679.76H308.82M303.02 705.54H308.82M308.46 685.68V709.46M305.56 685.68H311.36M305.56 709.46H311.36M311.00 687.87V713.19M308.10 687.87H313.90M308.10 713.19H313.90M313.54 691.56V715.41M310.64 691.56H316.44M310.64 715.41H316.44M316.08 692.51V718.40M313.18 692.51H318.98M313.18 718.40H318.98M318.62 694.55V718.33M315.72 694.55H321.52M315.72 718.33H321.52M321.16 692.50V718.41M318.26 692.50H324.06M318.26 718.41H324.06M323.70 690.80V716.17M320.80 690.80H326.60M320.80 716.17H326.60M326.26 689.23V713.80M323.36 689.23H329.16M323.36 713.80H329.16M328.82 687.16V711.93M325.92 687.16H331.72M325.92 711.93H331.72M331.38 685.43V709.71M328.48 685.43H334.28M328.48 709.71H334.28M333.94 682.99V708.21M331.04 682.99H336.84M331.04 708.21H336.84M336.50 682.15V707.08M333.60 682.15H339.40M333.60 707.08H339.40M339.06 681.59V705.57M336.16 681.59H341.96M336.16 705.57H341.96M341.62 681.91V705.89M338.72 681.91H344.52M338.72 705.89H344.52M344.18 680.66V705.62M341.28 680.66H347.08M341.28 705.62H347.08M346.74 681.02V705.13M343.84 681.02H349.64M343.84 705.13H349.64M349.30 681.23V705.03M346.40 681.23H352.20M346.40 705.03H352.20M351.74 682.69V705.44M348.84 682.69H354.64M348.84 705.44H354.64M354.18 681.41V706.30M351.28 681.41H357.08M351.28 706.30H357.08M356.62 682.52V706.23M353.72 682.52H359.52M353.72 706.23H359.52M359.06 682.23V705.80M356.16 682.23H361.96M356.16 705.80H361.96M361.50 681.46V704.37M358.60 681.46H364.40M358.60 704.37H364.40M363.94 681.10V706.07M361.04 681.10H366.84M361.04 706.07H366.84M366.38 679.43V711.60M363.48 679.43H369.28M363.48 711.60H369.28M368.82 675.91V710.70M365.92 675.91H371.72M365.92 710.70H371.72M371.26 681.83V714.75M368.36 681.83H374.16M368.36 714.75H374.16M373.70 683.03V716.46M370.80 683.03H376.60M370.80 716.46H376.60M376.20 682.93V714.55M373.30 682.93H379.10M373.30 714.55H379.10M378.70 682.22V715.16M375.80 682.22H381.60M375.80 715.16H381.60M381.20 686.35V718.64M378.30 686.35H384.10M378.30 718.64H384.10M383.70 688.05V715.01M380.80 688.05H386.60M380.80 715.01H386.60M386.20 692.99V718.71M383.30 692.99H389.10M383.30 718.71H389.10M388.70 689.77V716.75M385.80 689.77H391.60M385.80 716.75H391.60M391.20 687.40V714.45M388.30 687.40H394.10M388.30 714.45H394.10M393.70 687.34V713.45M390.80 687.34H396.60M390.80 713.45H396.60M396.20 685.91V719.56M393.30 685.91H399.10M393.30 719.56H399.10M398.70 686.41V719.50M395.80 686.41H401.60M395.80 719.50H401.60M401.19 689.75V722.93M398.29 689.75H404.09M398.29 722.93H404.09M403.68 686.04V719.02M400.78 686.04H406.58M400.78 719.02H406.58M406.17 684.34V717.41M403.27 684.34H409.07M403.27 717.41H409.07M408.66 682.27V714.55M405.76 682.27H411.56M405.76 714.55H411.56M411.15 683.52V715.29M408.25 683.52H414.05M408.25 715.29H414.05M413.64 683.01V716.84M410.74 683.01H416.54M410.74 716.84H416.54M416.13 681.33V713.56M413.23 681.33H419.03M413.23 713.56H419.03M418.62 681.21V714.79M415.72 681.21H421.52M415.72 714.79H421.52M421.11 683.06V716.34M418.21 683.06H424.01M418.21 716.34H424.01M423.60 682.82V715.71M420.70 682.82H426.50M420.70 715.71H426.50M426.03 684.86V717.37M423.13 684.86H428.93M423.13 717.37H428.93M428.46 686.16V718.10M425.56 686.16H431.36M425.56 718.10H431.36M430.89 687.11V719.03M427.99 687.11H433.79M427.99 719.03H433.79M433.32 687.62V721.09M430.42 687.62H436.22M430.42 721.09H436.22M435.75 688.95V720.68M432.85 688.95H438.65M432.85 720.68H438.65M438.18 684.60V718.04M435.28 684.60H441.08M435.28 718.04H441.08M440.61 683.47V716.98M437.71 683.47H443.51M437.71 716.98H443.51M443.04 688.63V720.31M440.14 688.63H445.94M440.14 720.31H445.94M445.47 684.56V718.36M442.57 684.56H448.37M442.57 718.36H448.37M447.90 683.17V716.20M445.00 683.17H450.80M445.00 716.20H450.80" stroke="#231f20" stroke-width="0.95" fill="none"/>
<path d="M242.90 677.96H249.90L246.40 684.66Z" fill="#fff" stroke="#231f20" stroke-width="0.95" stroke-linejoin="miter"/>
<path d="M245.47 677.41H252.47L248.97 684.11Z" fill="#fff" stroke="#231f20" stroke-width="0.95" stroke-linejoin="miter"/>
<path d="M248.04 678.75H255.04L251.54 685.45Z" fill="#fff" stroke="#231f20" stroke-width="0.95" stroke-linejoin="miter"/>
<path d="M250.61 678.52H257.61L254.11 685.22Z" fill="#fff" stroke="#231f20" stroke-width="0.95" stroke-linejoin="miter"/>
<path d="M253.18 678.78H260.18L256.68 685.48Z" fill="#fff" stroke="#231f20" stroke-width="0.95" stroke-linejoin="miter"/>
<path d="M255.75 678.55H262.75L259.25 685.25Z" fill="#fff" stroke="#231f20" stroke-width="0.95" stroke-linejoin="miter"/>
<path d="M258.32 678.05H265.32L261.82 684.75Z" fill="#fff" stroke="#231f20" stroke-width="0.95" stroke-linejoin="miter"/>
<path d="M260.89 676.84H267.89L264.39 683.54Z" fill="#fff" stroke="#231f20" stroke-width="0.95" stroke-linejoin="miter"/>
<path d="M263.46 678.55H270.46L266.96 685.25Z" fill="#fff" stroke="#231f20" stroke-width="0.95" stroke-linejoin="miter"/>
<path d="M266.03 676.24H273.03L269.53 682.94Z" fill="#fff" stroke="#231f20" stroke-width="0.95" stroke-linejoin="miter"/>
<path d="M268.60 675.75H275.60L272.10 682.45Z" fill="#fff" stroke="#231f20" stroke-width="0.95" stroke-linejoin="miter"/>
<path d="M271.22 674.77H278.22L274.72 681.47Z" fill="#fff" stroke="#231f20" stroke-width="0.95" stroke-linejoin="miter"/>
<path d="M273.84 672.80H280.84L277.34 679.50Z" fill="#fff" stroke="#231f20" stroke-width="0.95" stroke-linejoin="miter"/>
<path d="M276.46 669.84H283.46L279.96 676.54Z" fill="#fff" stroke="#231f20" stroke-width="0.95" stroke-linejoin="miter"/>
<path d="M279.08 667.87H286.08L282.58 674.57Z" fill="#fff" stroke="#231f20" stroke-width="0.95" stroke-linejoin="miter"/>
<path d="M281.70 667.87H288.70L285.20 674.57Z" fill="#fff" stroke="#231f20" stroke-width="0.95" stroke-linejoin="miter"/>
<path d="M284.32 667.38H291.32L287.82 674.08Z" fill="#fff" stroke="#231f20" stroke-width="0.95" stroke-linejoin="miter"/>
<path d="M286.94 667.87H293.94L290.44 674.57Z" fill="#fff" stroke="#231f20" stroke-width="0.95" stroke-linejoin="miter"/>
<path d="M289.56 667.87H296.56L293.06 674.57Z" fill="#fff" stroke="#231f20" stroke-width="0.95" stroke-linejoin="miter"/>
<path d="M292.18 667.87H299.18L295.68 674.57Z" fill="#fff" stroke="#231f20" stroke-width="0.95" stroke-linejoin="miter"/>
<path d="M294.80 669.84H301.80L298.30 676.54Z" fill="#fff" stroke="#231f20" stroke-width="0.95" stroke-linejoin="miter"/>
<path d="M297.34 674.77H304.34L300.84 681.47Z" fill="#fff" stroke="#231f20" stroke-width="0.95" stroke-linejoin="miter"/>
<path d="M299.88 681.66H306.88L303.38 688.36Z" fill="#fff" stroke="#231f20" stroke-width="0.95" stroke-linejoin="miter"/>
<path d="M302.42 689.55H309.42L305.92 696.25Z" fill="#fff" stroke="#231f20" stroke-width="0.95" stroke-linejoin="miter"/>
<path d="M304.96 694.47H311.96L308.46 701.17Z" fill="#fff" stroke="#231f20" stroke-width="0.95" stroke-linejoin="miter"/>
<path d="M307.50 697.43H314.50L311.00 704.13Z" fill="#fff" stroke="#231f20" stroke-width="0.95" stroke-linejoin="miter"/>
<path d="M310.04 700.39H317.04L313.54 707.09Z" fill="#fff" stroke="#231f20" stroke-width="0.95" stroke-linejoin="miter"/>
<path d="M312.58 702.36H319.58L316.08 709.06Z" fill="#fff" stroke="#231f20" stroke-width="0.95" stroke-linejoin="miter"/>
<path d="M315.12 703.34H322.12L318.62 710.04Z" fill="#fff" stroke="#231f20" stroke-width="0.95" stroke-linejoin="miter"/>
<path d="M317.66 702.36H324.66L321.16 709.06Z" fill="#fff" stroke="#231f20" stroke-width="0.95" stroke-linejoin="miter"/>
<path d="M320.20 700.39H327.20L323.70 707.09Z" fill="#fff" stroke="#231f20" stroke-width="0.95" stroke-linejoin="miter"/>
<path d="M322.76 698.41H329.76L326.26 705.11Z" fill="#fff" stroke="#231f20" stroke-width="0.95" stroke-linejoin="miter"/>
<path d="M325.32 696.44H332.32L328.82 703.14Z" fill="#fff" stroke="#231f20" stroke-width="0.95" stroke-linejoin="miter"/>
<path d="M327.88 694.47H334.88L331.38 701.17Z" fill="#fff" stroke="#231f20" stroke-width="0.95" stroke-linejoin="miter"/>
<path d="M330.44 692.50H337.44L333.94 699.20Z" fill="#fff" stroke="#231f20" stroke-width="0.95" stroke-linejoin="miter"/>
<path d="M333.00 691.52H340.00L336.50 698.22Z" fill="#fff" stroke="#231f20" stroke-width="0.95" stroke-linejoin="miter"/>
<path d="M335.56 690.48H342.56L339.06 697.18Z" fill="#fff" stroke="#231f20" stroke-width="0.95" stroke-linejoin="miter"/>
<path d="M338.12 690.80H345.12L341.62 697.50Z" fill="#fff" stroke="#231f20" stroke-width="0.95" stroke-linejoin="miter"/>
<path d="M340.68 690.04H347.68L344.18 696.74Z" fill="#fff" stroke="#231f20" stroke-width="0.95" stroke-linejoin="miter"/>
<path d="M343.24 689.98H350.24L346.74 696.68Z" fill="#fff" stroke="#231f20" stroke-width="0.95" stroke-linejoin="miter"/>
<path d="M345.80 690.03H352.80L349.30 696.73Z" fill="#fff" stroke="#231f20" stroke-width="0.95" stroke-linejoin="miter"/>
<path d="M348.24 690.96H355.24L351.74 697.66Z" fill="#fff" stroke="#231f20" stroke-width="0.95" stroke-linejoin="miter"/>
<path d="M350.68 690.76H357.68L354.18 697.46Z" fill="#fff" stroke="#231f20" stroke-width="0.95" stroke-linejoin="miter"/>
<path d="M353.12 691.28H360.12L356.62 697.98Z" fill="#fff" stroke="#231f20" stroke-width="0.95" stroke-linejoin="miter"/>
<path d="M355.56 690.91H362.56L359.06 697.61Z" fill="#fff" stroke="#231f20" stroke-width="0.95" stroke-linejoin="miter"/>
<path d="M358.00 689.81H365.00L361.50 696.51Z" fill="#fff" stroke="#231f20" stroke-width="0.95" stroke-linejoin="miter"/>
<path d="M360.44 690.48H367.44L363.94 697.18Z" fill="#fff" stroke="#231f20" stroke-width="0.95" stroke-linejoin="miter"/>
<path d="M362.88 692.41H369.88L366.38 699.11Z" fill="#fff" stroke="#231f20" stroke-width="0.95" stroke-linejoin="miter"/>
<path d="M365.32 690.21H372.32L368.82 696.91Z" fill="#fff" stroke="#231f20" stroke-width="0.95" stroke-linejoin="miter"/>
<path d="M367.76 695.19H374.76L371.26 701.89Z" fill="#fff" stroke="#231f20" stroke-width="0.95" stroke-linejoin="miter"/>
<path d="M370.20 696.64H377.20L373.70 703.34Z" fill="#fff" stroke="#231f20" stroke-width="0.95" stroke-linejoin="miter"/>
<path d="M372.70 695.64H379.70L376.20 702.34Z" fill="#fff" stroke="#231f20" stroke-width="0.95" stroke-linejoin="miter"/>
<path d="M375.20 695.59H382.20L378.70 702.29Z" fill="#fff" stroke="#231f20" stroke-width="0.95" stroke-linejoin="miter"/>
<path d="M377.70 699.40H384.70L381.20 706.10Z" fill="#fff" stroke="#231f20" stroke-width="0.95" stroke-linejoin="miter"/>
<path d="M380.20 698.43H387.20L383.70 705.13Z" fill="#fff" stroke="#231f20" stroke-width="0.95" stroke-linejoin="miter"/>
<path d="M382.70 702.75H389.70L386.20 709.45Z" fill="#fff" stroke="#231f20" stroke-width="0.95" stroke-linejoin="miter"/>
<path d="M385.20 700.16H392.20L388.70 706.86Z" fill="#fff" stroke="#231f20" stroke-width="0.95" stroke-linejoin="miter"/>
<path d="M387.70 697.83H394.70L391.20 704.53Z" fill="#fff" stroke="#231f20" stroke-width="0.95" stroke-linejoin="miter"/>
<path d="M390.20 697.30H397.20L393.70 704.00Z" fill="#fff" stroke="#231f20" stroke-width="0.95" stroke-linejoin="miter"/>
<path d="M392.70 699.63H399.70L396.20 706.33Z" fill="#fff" stroke="#231f20" stroke-width="0.95" stroke-linejoin="miter"/>
<path d="M395.20 699.85H402.20L398.70 706.55Z" fill="#fff" stroke="#231f20" stroke-width="0.95" stroke-linejoin="miter"/>
<path d="M397.69 703.24H404.69L401.19 709.94Z" fill="#fff" stroke="#231f20" stroke-width="0.95" stroke-linejoin="miter"/>
<path d="M400.18 699.43H407.18L403.68 706.13Z" fill="#fff" stroke="#231f20" stroke-width="0.95" stroke-linejoin="miter"/>
<path d="M402.67 697.77H409.67L406.17 704.47Z" fill="#fff" stroke="#231f20" stroke-width="0.95" stroke-linejoin="miter"/>
<path d="M405.16 695.31H412.16L408.66 702.01Z" fill="#fff" stroke="#231f20" stroke-width="0.95" stroke-linejoin="miter"/>
<path d="M407.65 696.31H414.65L411.15 703.01Z" fill="#fff" stroke="#231f20" stroke-width="0.95" stroke-linejoin="miter"/>
<path d="M410.14 696.82H417.14L413.64 703.52Z" fill="#fff" stroke="#231f20" stroke-width="0.95" stroke-linejoin="miter"/>
<path d="M412.63 694.35H419.63L416.13 701.05Z" fill="#fff" stroke="#231f20" stroke-width="0.95" stroke-linejoin="miter"/>
<path d="M415.12 694.90H422.12L418.62 701.60Z" fill="#fff" stroke="#231f20" stroke-width="0.95" stroke-linejoin="miter"/>
<path d="M417.61 696.60H424.61L421.11 703.30Z" fill="#fff" stroke="#231f20" stroke-width="0.95" stroke-linejoin="miter"/>
<path d="M420.10 696.17H427.10L423.60 702.87Z" fill="#fff" stroke="#231f20" stroke-width="0.95" stroke-linejoin="miter"/>
<path d="M422.53 698.02H429.53L426.03 704.72Z" fill="#fff" stroke="#231f20" stroke-width="0.95" stroke-linejoin="miter"/>
<path d="M424.96 699.03H431.96L428.46 705.73Z" fill="#fff" stroke="#231f20" stroke-width="0.95" stroke-linejoin="miter"/>
<path d="M427.39 699.97H434.39L430.89 706.67Z" fill="#fff" stroke="#231f20" stroke-width="0.95" stroke-linejoin="miter"/>
<path d="M429.82 701.26H436.82L433.32 707.96Z" fill="#fff" stroke="#231f20" stroke-width="0.95" stroke-linejoin="miter"/>
<path d="M432.25 701.72H439.25L435.75 708.42Z" fill="#fff" stroke="#231f20" stroke-width="0.95" stroke-linejoin="miter"/>
<path d="M434.68 698.22H441.68L438.18 704.92Z" fill="#fff" stroke="#231f20" stroke-width="0.95" stroke-linejoin="miter"/>
<path d="M437.11 697.12H444.11L440.61 703.82Z" fill="#fff" stroke="#231f20" stroke-width="0.95" stroke-linejoin="miter"/>
<path d="M439.54 701.37H446.54L443.04 708.07Z" fill="#fff" stroke="#231f20" stroke-width="0.95" stroke-linejoin="miter"/>
<path d="M441.97 698.36H448.97L445.47 705.06Z" fill="#fff" stroke="#231f20" stroke-width="0.95" stroke-linejoin="miter"/>
<path d="M444.40 696.59H451.40L447.90 703.29Z" fill="#fff" stroke="#231f20" stroke-width="0.95" stroke-linejoin="miter"/>
<path d="M246.40 676.61V680.94M243.50 676.61H249.30M243.50 680.94H249.30M248.97 675.68V680.32M246.07 675.68H251.87M246.07 680.32H251.87M251.54 676.53V680.02M248.64 676.53H254.44M248.64 680.02H254.44M254.11 677.91V680.90M251.21 677.91H257.01M251.21 680.90H257.01M256.68 677.84V681.06M253.78 677.84H259.58M253.78 681.06H259.58M259.25 677.09V681.66M256.35 677.09H262.15M256.35 681.66H262.15M261.82 676.42V680.66M258.92 676.42H264.72M258.92 680.66H264.72M264.39 677.23V681.27M261.49 677.23H267.29M261.49 681.27H267.29M266.96 675.70V680.42M264.06 675.70H269.86M264.06 680.42H269.86M269.53 676.50V679.86M266.63 676.50H272.43M266.63 679.86H272.43M272.10 676.44V681.27M269.20 676.44H275.00M269.20 681.27H275.00M274.72 675.50V680.24M271.82 675.50H277.62M271.82 680.24H277.62M277.34 674.70V679.07M274.44 674.70H280.24M274.44 679.07H280.24M279.96 674.00V677.79M277.06 674.00H282.86M277.06 677.79H282.86M282.58 672.73V677.09M279.68 672.73H285.48M279.68 677.09H285.48M285.20 671.69V676.16M282.30 671.69H288.10M282.30 676.16H288.10M287.82 671.58V675.29M284.92 671.58H290.72M284.92 675.29H290.72M290.44 670.84V675.04M287.54 670.84H293.34M287.54 675.04H293.34M293.06 671.82V676.03M290.16 671.82H295.96M290.16 676.03H295.96M295.68 674.26V677.53M292.78 674.26H298.58M292.78 677.53H298.58M298.30 669.71V687.99M295.40 669.71H301.20M295.40 687.99H301.20M300.84 669.24V692.41M297.94 669.24H303.74M297.94 692.41H303.74M303.38 676.29V699.15M300.48 676.29H306.28M300.48 699.15H306.28M305.92 681.93V706.32M303.02 681.93H308.82M303.02 706.32H308.82M308.46 686.36V710.76M305.56 686.36H311.36M305.56 710.76H311.36M311.00 692.07V710.96M308.10 692.07H313.90M308.10 710.96H313.90M313.54 695.25V713.69M310.64 695.25H316.44M310.64 713.69H316.44M316.08 698.42V716.44M313.18 698.42H318.98M313.18 716.44H318.98M318.62 701.15V719.62M315.72 701.15H321.52M315.72 719.62H321.52M321.16 700.36V718.43M318.26 700.36H324.06M318.26 718.43H324.06M323.70 697.48V715.40M320.80 697.48H326.60M320.80 715.40H326.60M326.26 694.22V712.75M323.36 694.22H329.16M323.36 712.75H329.16M328.82 691.08V709.98M325.92 691.08H331.72M325.92 709.98H331.72M331.38 688.31V706.83M328.48 688.31H334.28M328.48 706.83H334.28M333.94 686.23V704.97M331.04 686.23H336.84M331.04 704.97H336.84M336.50 685.11V703.14M333.60 685.11H339.40M333.60 703.14H339.40M339.06 690.13V701.07M336.16 690.13H341.96M336.16 701.07H341.96M341.62 690.43V702.75M338.72 690.43H344.52M338.72 702.75H344.52M344.18 680.37V714.78M341.28 680.37H347.08M341.28 714.78H347.08M346.74 691.74V703.41M343.84 691.74H349.64M343.84 703.41H349.64M349.30 691.21V703.94M346.40 691.21H352.20M346.40 703.94H352.20M351.74 692.39V704.73M348.84 692.39H354.64M348.84 704.73H354.64M354.18 693.96V705.12M351.28 693.96H357.08M351.28 705.12H357.08M356.62 694.60V706.46M353.72 694.60H359.52M353.72 706.46H359.52M359.06 695.41V707.62M356.16 695.41H361.96M356.16 707.62H361.96M361.50 698.04V708.93M358.60 698.04H364.40M358.60 708.93H364.40M363.94 701.10V713.75M361.04 701.10H366.84M361.04 713.75H366.84M366.38 707.59V719.09M363.48 707.59H369.28M363.48 719.09H369.28M368.82 708.38V720.26M365.92 708.38H371.72M365.92 720.26H371.72M371.26 709.75V720.87M368.36 709.75H374.16M368.36 720.87H374.16M373.70 709.64V721.96M370.80 709.64H376.60M370.80 721.96H376.60M376.20 711.92V723.52M373.30 711.92H379.10M373.30 723.52H379.10M378.70 711.48V722.63M375.80 711.48H381.60M375.80 722.63H381.60M381.20 711.29V723.47M378.30 711.29H384.10M378.30 723.47H384.10M383.70 710.76V721.70M380.80 710.76H386.60M380.80 721.70H386.60M386.20 710.61V723.18M383.30 710.61H389.10M383.30 723.18H389.10M388.70 711.09V722.51M385.80 711.09H391.60M385.80 722.51H391.60M391.20 710.06V722.17M388.30 710.06H394.10M388.30 722.17H394.10M393.70 712.14V723.43M390.80 712.14H396.60M390.80 723.43H396.60M396.20 710.52V723.24M393.30 710.52H399.10M393.30 723.24H399.10M398.70 711.30V723.44M395.80 711.30H401.60M395.80 723.44H401.60M401.19 711.90V724.47M398.29 711.90H404.09M398.29 724.47H404.09M403.68 710.50V722.80M400.78 710.50H406.58M400.78 722.80H406.58M406.17 712.24V723.51M403.27 712.24H409.07M403.27 723.51H409.07M408.66 710.16V722.65M405.76 710.16H411.56M405.76 722.65H411.56M411.15 711.88V722.92M408.25 711.88H414.05M408.25 722.92H414.05M413.64 710.32V722.42M410.74 710.32H416.54M410.74 722.42H416.54M416.13 710.56V722.28M413.23 710.56H419.03M413.23 722.28H419.03M418.62 711.78V723.18M415.72 711.78H421.52M415.72 723.18H421.52M421.11 710.05V722.69M418.21 710.05H424.01M418.21 722.69H424.01M423.60 712.05V724.16M420.70 712.05H426.50M420.70 724.16H426.50M426.03 711.97V723.86M423.13 711.97H428.93M423.13 723.86H428.93M428.46 711.72V722.91M425.56 711.72H431.36M425.56 722.91H431.36M430.89 711.44V724.24M427.99 711.44H433.79M427.99 724.24H433.79M433.32 711.79V723.15M430.42 711.79H436.22M430.42 723.15H436.22M435.75 710.81V723.44M432.85 710.81H438.65M432.85 723.44H438.65M438.18 711.38V722.28M435.28 711.38H441.08M435.28 722.28H441.08M440.61 711.24V722.77M437.71 711.24H443.51M437.71 722.77H443.51M443.04 712.13V724.54M440.14 712.13H445.94M440.14 724.54H445.94M445.47 710.46V722.78M442.57 710.46H448.37M442.57 722.78H448.37M447.90 710.94V722.21M445.00 710.94H450.80M445.00 722.21H450.80" stroke="#231f20" stroke-width="0.95" fill="none"/>
<circle cx="246.40" cy="678.78" r="3.35" fill="#231f20"/>
<circle cx="248.97" cy="678.00" r="3.35" fill="#231f20"/>
<circle cx="251.54" cy="678.27" r="3.35" fill="#231f20"/>
<circle cx="254.11" cy="679.40" r="3.35" fill="#231f20"/>
<circle cx="256.68" cy="679.45" r="3.35" fill="#231f20"/>
<circle cx="259.25" cy="679.38" r="3.35" fill="#231f20"/>
<circle cx="261.82" cy="678.54" r="3.35" fill="#231f20"/>
<circle cx="264.39" cy="679.25" r="3.35" fill="#231f20"/>
<circle cx="266.96" cy="678.06" r="3.35" fill="#231f20"/>
<circle cx="269.53" cy="678.18" r="3.35" fill="#231f20"/>
<circle cx="272.10" cy="678.85" r="3.35" fill="#231f20"/>
<circle cx="274.72" cy="677.87" r="3.35" fill="#231f20"/>
<circle cx="277.34" cy="676.88" r="3.35" fill="#231f20"/>
<circle cx="279.96" cy="675.90" r="3.35" fill="#231f20"/>
<circle cx="282.58" cy="674.91" r="3.35" fill="#231f20"/>
<circle cx="285.20" cy="673.93" r="3.35" fill="#231f20"/>
<circle cx="287.82" cy="673.43" r="3.35" fill="#231f20"/>
<circle cx="290.44" cy="672.94" r="3.35" fill="#231f20"/>
<circle cx="293.06" cy="673.93" r="3.35" fill="#231f20"/>
<circle cx="295.68" cy="675.90" r="3.35" fill="#231f20"/>
<circle cx="298.30" cy="678.85" r="3.35" fill="#231f20"/>
<circle cx="300.84" cy="680.82" r="3.35" fill="#231f20"/>
<circle cx="303.38" cy="687.72" r="3.35" fill="#231f20"/>
<circle cx="305.92" cy="694.12" r="3.35" fill="#231f20"/>
<circle cx="308.46" cy="698.56" r="3.35" fill="#231f20"/>
<circle cx="311.00" cy="701.51" r="3.35" fill="#231f20"/>
<circle cx="313.54" cy="704.47" r="3.35" fill="#231f20"/>
<circle cx="316.08" cy="707.43" r="3.35" fill="#231f20"/>
<circle cx="318.62" cy="710.38" r="3.35" fill="#231f20"/>
<circle cx="321.16" cy="709.40" r="3.35" fill="#231f20"/>
<circle cx="323.70" cy="706.44" r="3.35" fill="#231f20"/>
<circle cx="326.26" cy="703.49" r="3.35" fill="#231f20"/>
<circle cx="328.82" cy="700.53" r="3.35" fill="#231f20"/>
<circle cx="331.38" cy="697.57" r="3.35" fill="#231f20"/>
<circle cx="333.94" cy="695.60" r="3.35" fill="#231f20"/>
<circle cx="336.50" cy="694.12" r="3.35" fill="#231f20"/>
<circle cx="339.06" cy="695.60" r="3.35" fill="#231f20"/>
<circle cx="341.62" cy="696.59" r="3.35" fill="#231f20"/>
<circle cx="344.18" cy="697.57" r="3.35" fill="#231f20"/>
<circle cx="346.74" cy="697.57" r="3.35" fill="#231f20"/>
<circle cx="349.30" cy="697.57" r="3.35" fill="#231f20"/>
<circle cx="351.74" cy="698.56" r="3.35" fill="#231f20"/>
<circle cx="354.18" cy="699.54" r="3.35" fill="#231f20"/>
<circle cx="356.62" cy="700.53" r="3.35" fill="#231f20"/>
<circle cx="359.06" cy="701.51" r="3.35" fill="#231f20"/>
<circle cx="361.50" cy="703.49" r="3.35" fill="#231f20"/>
<circle cx="363.94" cy="707.43" r="3.35" fill="#231f20"/>
<circle cx="366.38" cy="713.34" r="3.35" fill="#231f20"/>
<circle cx="368.82" cy="714.32" r="3.35" fill="#231f20"/>
<circle cx="371.26" cy="715.31" r="3.35" fill="#231f20"/>
<circle cx="373.70" cy="715.80" r="3.35" fill="#231f20"/>
<circle cx="376.20" cy="717.72" r="3.35" fill="#231f20"/>
<circle cx="378.70" cy="717.06" r="3.35" fill="#231f20"/>
<circle cx="381.20" cy="717.38" r="3.35" fill="#231f20"/>
<circle cx="383.70" cy="716.23" r="3.35" fill="#231f20"/>
<circle cx="386.20" cy="716.89" r="3.35" fill="#231f20"/>
<circle cx="388.70" cy="716.80" r="3.35" fill="#231f20"/>
<circle cx="391.20" cy="716.11" r="3.35" fill="#231f20"/>
<circle cx="393.70" cy="717.79" r="3.35" fill="#231f20"/>
<circle cx="396.20" cy="716.88" r="3.35" fill="#231f20"/>
<circle cx="398.70" cy="717.37" r="3.35" fill="#231f20"/>
<circle cx="401.19" cy="718.19" r="3.35" fill="#231f20"/>
<circle cx="403.68" cy="716.65" r="3.35" fill="#231f20"/>
<circle cx="406.17" cy="717.88" r="3.35" fill="#231f20"/>
<circle cx="408.66" cy="716.40" r="3.35" fill="#231f20"/>
<circle cx="411.15" cy="717.40" r="3.35" fill="#231f20"/>
<circle cx="413.64" cy="716.37" r="3.35" fill="#231f20"/>
<circle cx="416.13" cy="716.42" r="3.35" fill="#231f20"/>
<circle cx="418.62" cy="717.48" r="3.35" fill="#231f20"/>
<circle cx="421.11" cy="716.37" r="3.35" fill="#231f20"/>
<circle cx="423.60" cy="718.11" r="3.35" fill="#231f20"/>
<circle cx="426.03" cy="717.91" r="3.35" fill="#231f20"/>
<circle cx="428.46" cy="717.32" r="3.35" fill="#231f20"/>
<circle cx="430.89" cy="717.84" r="3.35" fill="#231f20"/>
<circle cx="433.32" cy="717.47" r="3.35" fill="#231f20"/>
<circle cx="435.75" cy="717.12" r="3.35" fill="#231f20"/>
<circle cx="438.18" cy="716.83" r="3.35" fill="#231f20"/>
<circle cx="440.61" cy="717.00" r="3.35" fill="#231f20"/>
<circle cx="443.04" cy="718.33" r="3.35" fill="#231f20"/>
<circle cx="445.47" cy="716.62" r="3.35" fill="#231f20"/>
<circle cx="447.90" cy="716.58" r="3.35" fill="#231f20"/>
<line x1="312.00" y1="676.40" x2="451.50" y2="676.40" stroke="#231f20" stroke-width="2.2" stroke-dasharray="4.4 7.17"/>
<rect x="306.40" y="637.70" width="29.00" height="138.10" fill="#dadbdd" fill-opacity="0.58"/>
<line x1="306.40" y1="639.70" x2="306.40" y2="775.80" stroke="#c9cbcd" stroke-width="0.9" stroke-dasharray="1 3.7"/>
<line x1="335.40" y1="639.70" x2="335.40" y2="775.80" stroke="#c9cbcd" stroke-width="0.9" stroke-dasharray="1 3.7"/>
<line x1="305.80" y1="637.00" x2="336.20" y2="637.00" stroke="#58595b" stroke-width="1.8"/>
<circle cx="356.80" cy="632.50" r="3.35" fill="#231f20"/>
<path d="M353.70 647.90H359.90L356.80 654.00Z" fill="#fff" stroke="#231f20" stroke-width="0.9"/>
<text x="375.00" y="637.70" font-size="14.6" text-anchor="start" fill="#231f20" textLength="22.40" lengthAdjust="spacingAndGlyphs" stroke="#231f20" stroke-width="0.2">WT</text>
<text x="375.00" y="657.50" font-size="14.6" text-anchor="start" fill="#231f20" textLength="32.80" lengthAdjust="spacingAndGlyphs" stroke="#231f20" stroke-width="0.2">Npc1</text>
<text x="409.60" y="651.90" font-size="11.0" text-anchor="start" fill="#231f20" textLength="38.00" lengthAdjust="spacingAndGlyphs">nmf164</text>
<line x1="246.00" y1="887.90" x2="246.00" y2="1042.40" stroke="#231f20" stroke-width="1.5"/>
<line x1="245.30" y1="1041.70" x2="474.20" y2="1041.70" stroke="#231f20" stroke-width="1.5"/>
<line x1="241.40" y1="888.60" x2="246.00" y2="888.60" stroke="#231f20" stroke-width="1.5"/>
<text x="240.20" y="893.00" font-size="12" font-weight="bold" stroke="#231f20" stroke-width="0.22" text-anchor="end" fill="#231f20">1.5</text>
<line x1="241.40" y1="939.63" x2="246.00" y2="939.63" stroke="#231f20" stroke-width="1.5"/>
<text x="240.20" y="944.03" font-size="12" font-weight="bold" stroke="#231f20" stroke-width="0.22" text-anchor="end" fill="#231f20">1.0</text>
<line x1="241.40" y1="990.67" x2="246.00" y2="990.67" stroke="#231f20" stroke-width="1.5"/>
<text x="240.20" y="995.07" font-size="12" font-weight="bold" stroke="#231f20" stroke-width="0.22" text-anchor="end" fill="#231f20">0.5</text>
<line x1="241.40" y1="1041.70" x2="246.00" y2="1041.70" stroke="#231f20" stroke-width="1.5"/>
<text x="240.20" y="1046.10" font-size="12" font-weight="bold" stroke="#231f20" stroke-width="0.22" text-anchor="end" fill="#231f20">0.0</text>
<line x1="246.40" y1="1041.70" x2="246.40" y2="1046.50" stroke="#231f20" stroke-width="1.5"/>
<text transform="translate(247.30 1053.60) rotate(-45)" x="0" y="0" font-size="12" font-weight="bold" stroke="#231f20" stroke-width="0.22" text-anchor="end" fill="#231f20" dominant-baseline="central">-20</text>
<line x1="272.10" y1="1041.70" x2="272.10" y2="1046.50" stroke="#231f20" stroke-width="1.5"/>
<text transform="translate(273.00 1053.60) rotate(-45)" x="0" y="0" font-size="12" font-weight="bold" stroke="#231f20" stroke-width="0.22" text-anchor="end" fill="#231f20" dominant-baseline="central">-10</text>
<line x1="298.30" y1="1041.70" x2="298.30" y2="1046.50" stroke="#231f20" stroke-width="1.5"/>
<text transform="translate(299.20 1053.60) rotate(-45)" x="0" y="0" font-size="12" font-weight="bold" stroke="#231f20" stroke-width="0.22" text-anchor="end" fill="#231f20" dominant-baseline="central">0</text>
<line x1="323.70" y1="1041.70" x2="323.70" y2="1046.50" stroke="#231f20" stroke-width="1.5"/>
<text transform="translate(324.60 1053.60) rotate(-45)" x="0" y="0" font-size="12" font-weight="bold" stroke="#231f20" stroke-width="0.22" text-anchor="end" fill="#231f20" dominant-baseline="central">10</text>
<line x1="349.30" y1="1041.70" x2="349.30" y2="1046.50" stroke="#231f20" stroke-width="1.5"/>
<text transform="translate(350.20 1053.60) rotate(-45)" x="0" y="0" font-size="12" font-weight="bold" stroke="#231f20" stroke-width="0.22" text-anchor="end" fill="#231f20" dominant-baseline="central">20</text>
<line x1="373.70" y1="1041.70" x2="373.70" y2="1046.50" stroke="#231f20" stroke-width="1.5"/>
<text transform="translate(374.60 1053.60) rotate(-45)" x="0" y="0" font-size="12" font-weight="bold" stroke="#231f20" stroke-width="0.22" text-anchor="end" fill="#231f20" dominant-baseline="central">30</text>
<line x1="398.70" y1="1041.70" x2="398.70" y2="1046.50" stroke="#231f20" stroke-width="1.5"/>
<text transform="translate(399.60 1053.60) rotate(-45)" x="0" y="0" font-size="12" font-weight="bold" stroke="#231f20" stroke-width="0.22" text-anchor="end" fill="#231f20" dominant-baseline="central">40</text>
<line x1="423.60" y1="1041.70" x2="423.60" y2="1046.50" stroke="#231f20" stroke-width="1.5"/>
<text transform="translate(424.50 1053.60) rotate(-45)" x="0" y="0" font-size="12" font-weight="bold" stroke="#231f20" stroke-width="0.22" text-anchor="end" fill="#231f20" dominant-baseline="central">50</text>
<line x1="447.90" y1="1041.70" x2="447.90" y2="1046.50" stroke="#231f20" stroke-width="1.5"/>
<text transform="translate(448.80 1053.60) rotate(-45)" x="0" y="0" font-size="12" font-weight="bold" stroke="#231f20" stroke-width="0.22" text-anchor="end" fill="#231f20" dominant-baseline="central">60</text>
<line x1="473.50" y1="1041.70" x2="473.50" y2="1046.50" stroke="#231f20" stroke-width="1.5"/>
<text transform="translate(474.40 1053.60) rotate(-45)" x="0" y="0" font-size="12" font-weight="bold" stroke="#231f20" stroke-width="0.22" text-anchor="end" fill="#231f20" dominant-baseline="central">70</text>
<text x="0" y="0" transform="translate(216.40 965.15) rotate(-90)" font-size="12.7" font-weight="bold" stroke="#231f20" stroke-width="0.22" text-anchor="middle" fill="#231f20" textLength="153.00" lengthAdjust="spacingAndGlyphs">fEPSP slope (% baseline)</text>
<text x="328.60" y="1090.60" font-size="12.3" font-weight="bold" stroke="#231f20" stroke-width="0.22" text-anchor="start" fill="#231f20" textLength="62.50" lengthAdjust="spacingAndGlyphs">Time (min)</text>
<text x="319.65" y="891.90" font-size="11.8" font-weight="bold" stroke="#231f20" stroke-width="0.22" text-anchor="middle" fill="#231f20">CHPG</text>
<path d="M246.40 937.27V942.00M243.50 937.27H249.30M243.50 942.00H249.30M248.97 939.75V945.64M246.07 939.75H251.87M246.07 945.64H251.87M251.54 942.29V948.21M248.64 942.29H254.44M248.64 948.21H254.44M254.11 940.94V955.67M251.21 940.94H257.01M251.21 955.67H257.01M256.68 944.04V949.52M253.78 944.04H259.58M253.78 949.52H259.58M259.25 941.30V947.15M256.35 941.30H262.15M256.35 947.15H262.15M261.82 938.85V944.50M258.92 938.85H264.72M258.92 944.50H264.72M264.39 936.68V942.59M261.49 936.68H267.29M261.49 942.59H267.29M266.96 933.73V939.41M264.06 933.73H269.86M264.06 939.41H269.86M269.53 932.21V936.85M266.63 932.21H272.43M266.63 936.85H272.43M272.10 929.47V934.49M269.20 929.47H275.00M269.20 934.49H275.00M274.72 927.09V931.76M271.82 927.09H277.62M271.82 931.76H277.62M277.34 930.06V935.94M274.44 930.06H280.24M274.44 935.94H280.24M279.96 930.88V936.13M277.06 930.88H282.86M277.06 936.13H282.86M282.58 931.68V937.38M279.68 931.68H285.48M279.68 937.38H285.48M285.20 933.26V937.84M282.30 933.26H288.10M282.30 937.84H288.10M287.82 934.41V939.75M284.92 934.41H290.72M284.92 939.75H290.72M290.44 935.73V941.50M287.54 935.73H293.34M287.54 941.50H293.34M293.06 936.83V942.43M290.16 936.83H295.96M290.16 942.43H295.96M295.68 937.67V943.63M292.78 937.67H298.58M292.78 943.63H298.58M298.30 932.00V955.43M295.40 932.00H301.20M295.40 955.43H301.20M300.84 935.24V958.31M297.94 935.24H303.74M297.94 958.31H303.74M303.38 926.05V975.68M300.48 926.05H306.28M300.48 975.68H306.28M305.92 938.19V961.49M303.02 938.19H308.82M303.02 961.49H308.82M308.46 938.27V961.41M305.56 938.27H311.36M305.56 961.41H311.36M311.00 939.63V962.09M308.10 939.63H313.90M308.10 962.09H313.90M313.54 940.64V964.15M310.64 940.64H316.44M310.64 964.15H316.44M316.08 942.45V965.40M313.18 942.45H318.98M313.18 965.40H318.98M318.62 942.93V966.96M315.72 942.93H321.52M315.72 966.96H321.52M321.16 945.35V968.62M318.26 945.35H324.06M318.26 968.62H324.06M323.70 947.01V971.04M320.80 947.01H326.60M320.80 971.04H326.60M326.26 949.46V972.68M323.36 949.46H329.16M323.36 972.68H329.16M328.82 951.80V974.42M325.92 951.80H331.72M325.92 974.42H331.72M331.38 953.93V977.39M328.48 953.93H334.28M328.48 977.39H334.28M333.94 956.94V979.48M331.04 956.94H336.84M331.04 979.48H336.84M336.50 958.83V982.70M333.60 958.83H339.40M333.60 982.70H339.40M339.06 970.43V980.90M336.16 970.43H341.96M336.16 980.90H341.96M341.62 972.28V982.51M338.72 972.28H344.52M338.72 982.51H344.52M344.18 974.74V984.14M341.28 974.74H347.08M341.28 984.14H347.08M346.74 976.88V986.08M343.84 976.88H349.64M343.84 986.08H349.64M349.30 977.87V988.15M346.40 977.87H352.20M346.40 988.15H352.20M351.74 979.78V989.31M348.84 979.78H354.64M348.84 989.31H354.64M354.18 980.96V990.17M351.28 980.96H357.08M351.28 990.17H357.08M356.62 979.64V989.44M353.72 979.64H359.52M353.72 989.44H359.52M359.06 977.63V988.39M356.16 977.63H361.96M356.16 988.39H361.96M361.50 976.63V986.33M358.60 976.63H364.40M358.60 986.33H364.40M363.94 974.30V984.57M361.04 974.30H366.84M361.04 984.57H366.84M366.38 973.49V983.35M363.48 973.49H369.28M363.48 983.35H369.28M368.82 972.07V981.70M365.92 972.07H371.72M365.92 981.70H371.72M371.26 974.18V983.68M368.36 974.18H374.16M368.36 983.68H374.16M373.70 975.62V985.30M370.80 975.62H376.60M370.80 985.30H376.60M376.20 976.67V987.31M373.30 976.67H379.10M373.30 987.31H379.10M378.70 977.81V988.21M375.80 977.81H381.60M375.80 988.21H381.60M381.20 977.72V988.31M378.30 977.72H384.10M378.30 988.31H384.10M383.70 978.03V988.00M380.80 978.03H386.60M380.80 988.00H386.60M386.20 976.49V986.47M383.30 976.49H389.10M383.30 986.47H389.10M388.70 975.32V985.60M385.80 975.32H391.60M385.80 985.60H391.60M391.20 974.68V985.22M388.30 974.68H394.10M388.30 985.22H394.10M393.70 974.29V984.59M390.80 974.29H396.60M390.80 984.59H396.60M396.20 973.73V984.13M393.30 973.73H399.10M393.30 984.13H399.10M398.70 973.55V983.29M395.80 973.55H401.60M395.80 983.29H401.60M401.19 971.43V981.33M398.29 971.43H404.09M398.29 981.33H404.09M403.68 969.32V979.35M400.78 969.32H406.58M400.78 979.35H406.58M406.17 971.96V981.82M403.27 971.96H409.07M403.27 981.82H409.07M408.66 974.78V984.10M405.76 974.78H411.56M405.76 984.10H411.56M411.15 976.33V986.63M408.25 976.33H414.05M408.25 986.63H414.05M413.64 978.33V987.69M410.74 978.33H416.54M410.74 987.69H416.54M416.13 977.52V987.48M413.23 977.52H419.03M413.23 987.48H419.03M418.62 976.64V987.34M415.72 976.64H421.52M415.72 987.34H421.52M421.11 972.03V982.76M418.21 972.03H424.01M418.21 982.76H424.01M423.60 967.62V979.01M420.70 967.62H426.50M420.70 979.01H426.50M426.03 972.39V982.41M423.13 972.39H428.93M423.13 982.41H428.93M428.46 975.11V985.81M425.56 975.11H431.36M425.56 985.81H431.36M430.89 977.60V987.41M427.99 977.60H433.79M427.99 987.41H433.79M433.32 979.72V989.37M430.42 979.72H436.22M430.42 989.37H436.22M435.75 977.09V987.91M432.85 977.09H438.65M432.85 987.91H438.65M438.18 975.67V985.25M435.28 975.67H441.08M435.28 985.25H441.08M440.61 977.36V986.63M437.71 977.36H443.51M437.71 986.63H443.51M443.04 978.41V987.61M440.14 978.41H445.94M440.14 987.61H445.94M445.47 978.95V989.11M442.57 978.95H448.37M442.57 989.11H448.37M447.90 979.94V989.14M445.00 979.94H450.80M445.00 989.14H450.80M450.46 979.65V990.45M447.56 979.65H453.36M447.56 990.45H453.36M453.02 980.59V990.54M450.12 980.59H455.92M450.12 990.54H455.92M455.58 979.79V990.32M452.68 979.79H458.48M452.68 990.32H458.48M458.14 979.79V989.30M455.24 979.79H461.04M455.24 989.30H461.04M460.70 980.22V990.90M457.80 980.22H463.60M457.80 990.90H463.60M463.26 981.52V992.26M460.36 981.52H466.16M460.36 992.26H466.16M465.82 982.69V992.52M462.92 982.69H468.72M462.92 992.52H468.72M468.38 983.09V993.14M465.48 983.09H471.28M465.48 993.14H471.28M470.94 985.93V995.40M468.04 985.93H473.84M468.04 995.40H473.84M473.50 989.70V998.98M470.60 989.70H476.40M470.60 998.98H476.40" stroke="#231f20" stroke-width="0.95" fill="none"/>
<path d="M242.90 936.53H249.90L246.40 943.23Z" fill="#fff" stroke="#231f20" stroke-width="0.95" stroke-linejoin="miter"/>
<path d="M245.47 939.60H252.47L248.97 946.30Z" fill="#fff" stroke="#231f20" stroke-width="0.95" stroke-linejoin="miter"/>
<path d="M248.04 942.15H255.04L251.54 948.85Z" fill="#fff" stroke="#231f20" stroke-width="0.95" stroke-linejoin="miter"/>
<path d="M250.61 945.21H257.61L254.11 951.91Z" fill="#fff" stroke="#231f20" stroke-width="0.95" stroke-linejoin="miter"/>
<path d="M253.18 943.68H260.18L256.68 950.38Z" fill="#fff" stroke="#231f20" stroke-width="0.95" stroke-linejoin="miter"/>
<path d="M255.75 941.13H262.75L259.25 947.83Z" fill="#fff" stroke="#231f20" stroke-width="0.95" stroke-linejoin="miter"/>
<path d="M258.32 938.57H265.32L261.82 945.27Z" fill="#fff" stroke="#231f20" stroke-width="0.95" stroke-linejoin="miter"/>
<path d="M260.89 936.53H267.89L264.39 943.23Z" fill="#fff" stroke="#231f20" stroke-width="0.95" stroke-linejoin="miter"/>
<path d="M263.46 933.47H270.46L266.96 940.17Z" fill="#fff" stroke="#231f20" stroke-width="0.95" stroke-linejoin="miter"/>
<path d="M266.03 931.43H273.03L269.53 938.13Z" fill="#fff" stroke="#231f20" stroke-width="0.95" stroke-linejoin="miter"/>
<path d="M268.60 928.88H275.60L272.10 935.58Z" fill="#fff" stroke="#231f20" stroke-width="0.95" stroke-linejoin="miter"/>
<path d="M271.22 926.33H278.22L274.72 933.03Z" fill="#fff" stroke="#231f20" stroke-width="0.95" stroke-linejoin="miter"/>
<path d="M273.84 929.90H280.84L277.34 936.60Z" fill="#fff" stroke="#231f20" stroke-width="0.95" stroke-linejoin="miter"/>
<path d="M276.46 930.41H283.46L279.96 937.11Z" fill="#fff" stroke="#231f20" stroke-width="0.95" stroke-linejoin="miter"/>
<path d="M279.08 931.43H286.08L282.58 938.13Z" fill="#fff" stroke="#231f20" stroke-width="0.95" stroke-linejoin="miter"/>
<path d="M281.70 932.45H288.70L285.20 939.15Z" fill="#fff" stroke="#231f20" stroke-width="0.95" stroke-linejoin="miter"/>
<path d="M284.32 933.98H291.32L287.82 940.68Z" fill="#fff" stroke="#231f20" stroke-width="0.95" stroke-linejoin="miter"/>
<path d="M286.94 935.51H293.94L290.44 942.21Z" fill="#fff" stroke="#231f20" stroke-width="0.95" stroke-linejoin="miter"/>
<path d="M289.56 936.53H296.56L293.06 943.23Z" fill="#fff" stroke="#231f20" stroke-width="0.95" stroke-linejoin="miter"/>
<path d="M292.18 937.55H299.18L295.68 944.25Z" fill="#fff" stroke="#231f20" stroke-width="0.95" stroke-linejoin="miter"/>
<path d="M294.80 940.62H301.80L298.30 947.32Z" fill="#fff" stroke="#231f20" stroke-width="0.95" stroke-linejoin="miter"/>
<path d="M297.34 943.68H304.34L300.84 950.38Z" fill="#fff" stroke="#231f20" stroke-width="0.95" stroke-linejoin="miter"/>
<path d="M299.88 947.76H306.88L303.38 954.46Z" fill="#fff" stroke="#231f20" stroke-width="0.95" stroke-linejoin="miter"/>
<path d="M302.42 946.74H309.42L305.92 953.44Z" fill="#fff" stroke="#231f20" stroke-width="0.95" stroke-linejoin="miter"/>
<path d="M304.96 946.74H311.96L308.46 953.44Z" fill="#fff" stroke="#231f20" stroke-width="0.95" stroke-linejoin="miter"/>
<path d="M307.50 947.76H314.50L311.00 954.46Z" fill="#fff" stroke="#231f20" stroke-width="0.95" stroke-linejoin="miter"/>
<path d="M310.04 949.29H317.04L313.54 955.99Z" fill="#fff" stroke="#231f20" stroke-width="0.95" stroke-linejoin="miter"/>
<path d="M312.58 950.82H319.58L316.08 957.52Z" fill="#fff" stroke="#231f20" stroke-width="0.95" stroke-linejoin="miter"/>
<path d="M315.12 951.84H322.12L318.62 958.54Z" fill="#fff" stroke="#231f20" stroke-width="0.95" stroke-linejoin="miter"/>
<path d="M317.66 953.88H324.66L321.16 960.58Z" fill="#fff" stroke="#231f20" stroke-width="0.95" stroke-linejoin="miter"/>
<path d="M320.20 955.93H327.20L323.70 962.63Z" fill="#fff" stroke="#231f20" stroke-width="0.95" stroke-linejoin="miter"/>
<path d="M322.76 957.97H329.76L326.26 964.67Z" fill="#fff" stroke="#231f20" stroke-width="0.95" stroke-linejoin="miter"/>
<path d="M325.32 960.01H332.32L328.82 966.71Z" fill="#fff" stroke="#231f20" stroke-width="0.95" stroke-linejoin="miter"/>
<path d="M327.88 962.56H334.88L331.38 969.26Z" fill="#fff" stroke="#231f20" stroke-width="0.95" stroke-linejoin="miter"/>
<path d="M330.44 965.11H337.44L333.94 971.81Z" fill="#fff" stroke="#231f20" stroke-width="0.95" stroke-linejoin="miter"/>
<path d="M333.00 967.66H340.00L336.50 974.36Z" fill="#fff" stroke="#231f20" stroke-width="0.95" stroke-linejoin="miter"/>
<path d="M335.56 972.56H342.56L339.06 979.26Z" fill="#fff" stroke="#231f20" stroke-width="0.95" stroke-linejoin="miter"/>
<path d="M338.12 974.30H345.12L341.62 981.00Z" fill="#fff" stroke="#231f20" stroke-width="0.95" stroke-linejoin="miter"/>
<path d="M340.68 976.34H347.68L344.18 983.04Z" fill="#fff" stroke="#231f20" stroke-width="0.95" stroke-linejoin="miter"/>
<path d="M343.24 978.38H350.24L346.74 985.08Z" fill="#fff" stroke="#231f20" stroke-width="0.95" stroke-linejoin="miter"/>
<path d="M345.80 979.91H352.80L349.30 986.61Z" fill="#fff" stroke="#231f20" stroke-width="0.95" stroke-linejoin="miter"/>
<path d="M348.24 981.44H355.24L351.74 988.14Z" fill="#fff" stroke="#231f20" stroke-width="0.95" stroke-linejoin="miter"/>
<path d="M350.68 982.46H357.68L354.18 989.16Z" fill="#fff" stroke="#231f20" stroke-width="0.95" stroke-linejoin="miter"/>
<path d="M353.12 981.44H360.12L356.62 988.14Z" fill="#fff" stroke="#231f20" stroke-width="0.95" stroke-linejoin="miter"/>
<path d="M355.56 979.91H362.56L359.06 986.61Z" fill="#fff" stroke="#231f20" stroke-width="0.95" stroke-linejoin="miter"/>
<path d="M358.00 978.38H365.00L361.50 985.08Z" fill="#fff" stroke="#231f20" stroke-width="0.95" stroke-linejoin="miter"/>
<path d="M360.44 976.34H367.44L363.94 983.04Z" fill="#fff" stroke="#231f20" stroke-width="0.95" stroke-linejoin="miter"/>
<path d="M362.88 975.32H369.88L366.38 982.02Z" fill="#fff" stroke="#231f20" stroke-width="0.95" stroke-linejoin="miter"/>
<path d="M365.32 973.79H372.32L368.82 980.49Z" fill="#fff" stroke="#231f20" stroke-width="0.95" stroke-linejoin="miter"/>
<path d="M367.76 975.83H374.76L371.26 982.53Z" fill="#fff" stroke="#231f20" stroke-width="0.95" stroke-linejoin="miter"/>
<path d="M370.20 977.36H377.20L373.70 984.06Z" fill="#fff" stroke="#231f20" stroke-width="0.95" stroke-linejoin="miter"/>
<path d="M372.70 978.89H379.70L376.20 985.59Z" fill="#fff" stroke="#231f20" stroke-width="0.95" stroke-linejoin="miter"/>
<path d="M375.20 979.91H382.20L378.70 986.61Z" fill="#fff" stroke="#231f20" stroke-width="0.95" stroke-linejoin="miter"/>
<path d="M377.70 979.91H384.70L381.20 986.61Z" fill="#fff" stroke="#231f20" stroke-width="0.95" stroke-linejoin="miter"/>
<path d="M380.20 979.91H387.20L383.70 986.61Z" fill="#fff" stroke="#231f20" stroke-width="0.95" stroke-linejoin="miter"/>
<path d="M382.70 978.38H389.70L386.20 985.08Z" fill="#fff" stroke="#231f20" stroke-width="0.95" stroke-linejoin="miter"/>
<path d="M385.20 977.36H392.20L388.70 984.06Z" fill="#fff" stroke="#231f20" stroke-width="0.95" stroke-linejoin="miter"/>
<path d="M387.70 976.85H394.70L391.20 983.55Z" fill="#fff" stroke="#231f20" stroke-width="0.95" stroke-linejoin="miter"/>
<path d="M390.20 976.34H397.20L393.70 983.04Z" fill="#fff" stroke="#231f20" stroke-width="0.95" stroke-linejoin="miter"/>
<path d="M392.70 975.83H399.70L396.20 982.53Z" fill="#fff" stroke="#231f20" stroke-width="0.95" stroke-linejoin="miter"/>
<path d="M395.20 975.32H402.20L398.70 982.02Z" fill="#fff" stroke="#231f20" stroke-width="0.95" stroke-linejoin="miter"/>
<path d="M397.69 973.28H404.69L401.19 979.98Z" fill="#fff" stroke="#231f20" stroke-width="0.95" stroke-linejoin="miter"/>
<path d="M400.18 971.24H407.18L403.68 977.94Z" fill="#fff" stroke="#231f20" stroke-width="0.95" stroke-linejoin="miter"/>
<path d="M402.67 973.79H409.67L406.17 980.49Z" fill="#fff" stroke="#231f20" stroke-width="0.95" stroke-linejoin="miter"/>
<path d="M405.16 976.34H412.16L408.66 983.04Z" fill="#fff" stroke="#231f20" stroke-width="0.95" stroke-linejoin="miter"/>
<path d="M407.65 978.38H414.65L411.15 985.08Z" fill="#fff" stroke="#231f20" stroke-width="0.95" stroke-linejoin="miter"/>
<path d="M410.14 979.91H417.14L413.64 986.61Z" fill="#fff" stroke="#231f20" stroke-width="0.95" stroke-linejoin="miter"/>
<path d="M412.63 979.40H419.63L416.13 986.10Z" fill="#fff" stroke="#231f20" stroke-width="0.95" stroke-linejoin="miter"/>
<path d="M415.12 978.89H422.12L418.62 985.59Z" fill="#fff" stroke="#231f20" stroke-width="0.95" stroke-linejoin="miter"/>
<path d="M417.61 974.30H424.61L421.11 981.00Z" fill="#fff" stroke="#231f20" stroke-width="0.95" stroke-linejoin="miter"/>
<path d="M420.10 970.22H427.10L423.60 976.92Z" fill="#fff" stroke="#231f20" stroke-width="0.95" stroke-linejoin="miter"/>
<path d="M422.53 974.30H429.53L426.03 981.00Z" fill="#fff" stroke="#231f20" stroke-width="0.95" stroke-linejoin="miter"/>
<path d="M424.96 977.36H431.96L428.46 984.06Z" fill="#fff" stroke="#231f20" stroke-width="0.95" stroke-linejoin="miter"/>
<path d="M427.39 979.40H434.39L430.89 986.10Z" fill="#fff" stroke="#231f20" stroke-width="0.95" stroke-linejoin="miter"/>
<path d="M429.82 981.44H436.82L433.32 988.14Z" fill="#fff" stroke="#231f20" stroke-width="0.95" stroke-linejoin="miter"/>
<path d="M432.25 979.40H439.25L435.75 986.10Z" fill="#fff" stroke="#231f20" stroke-width="0.95" stroke-linejoin="miter"/>
<path d="M434.68 977.36H441.68L438.18 984.06Z" fill="#fff" stroke="#231f20" stroke-width="0.95" stroke-linejoin="miter"/>
<path d="M437.11 978.89H444.11L440.61 985.59Z" fill="#fff" stroke="#231f20" stroke-width="0.95" stroke-linejoin="miter"/>
<path d="M439.54 979.91H446.54L443.04 986.61Z" fill="#fff" stroke="#231f20" stroke-width="0.95" stroke-linejoin="miter"/>
<path d="M441.97 980.93H448.97L445.47 987.63Z" fill="#fff" stroke="#231f20" stroke-width="0.95" stroke-linejoin="miter"/>
<path d="M444.40 981.44H451.40L447.90 988.14Z" fill="#fff" stroke="#231f20" stroke-width="0.95" stroke-linejoin="miter"/>
<path d="M446.96 981.95H453.96L450.46 988.65Z" fill="#fff" stroke="#231f20" stroke-width="0.95" stroke-linejoin="miter"/>
<path d="M449.52 982.46H456.52L453.02 989.16Z" fill="#fff" stroke="#231f20" stroke-width="0.95" stroke-linejoin="miter"/>
<path d="M452.08 981.95H459.08L455.58 988.65Z" fill="#fff" stroke="#231f20" stroke-width="0.95" stroke-linejoin="miter"/>
<path d="M454.64 981.44H461.64L458.14 988.14Z" fill="#fff" stroke="#231f20" stroke-width="0.95" stroke-linejoin="miter"/>
<path d="M457.20 982.46H464.20L460.70 989.16Z" fill="#fff" stroke="#231f20" stroke-width="0.95" stroke-linejoin="miter"/>
<path d="M459.76 983.79H466.76L463.26 990.49Z" fill="#fff" stroke="#231f20" stroke-width="0.95" stroke-linejoin="miter"/>
<path d="M462.32 984.50H469.32L465.82 991.20Z" fill="#fff" stroke="#231f20" stroke-width="0.95" stroke-linejoin="miter"/>
<path d="M464.88 985.01H471.88L468.38 991.72Z" fill="#fff" stroke="#231f20" stroke-width="0.95" stroke-linejoin="miter"/>
<path d="M467.44 987.57H474.44L470.94 994.27Z" fill="#fff" stroke="#231f20" stroke-width="0.95" stroke-linejoin="miter"/>
<path d="M470.00 991.24H477.00L473.50 997.94Z" fill="#fff" stroke="#231f20" stroke-width="0.95" stroke-linejoin="miter"/>
<path d="M246.40 934.74V940.44M243.50 934.74H249.30M243.50 940.44H249.30M248.97 935.14V940.04M246.07 935.14H251.87M246.07 940.04H251.87M251.54 934.07V939.08M248.64 934.07H254.44M248.64 939.08H254.44M254.11 935.70V939.48M251.21 935.70H257.01M251.21 939.48H257.01M256.68 936.32V940.91M253.78 936.32H259.58M253.78 940.91H259.58M259.25 936.66V940.57M256.35 936.66H262.15M256.35 940.57H262.15M261.82 935.40V939.78M258.92 935.40H264.72M258.92 939.78H264.72M264.39 935.72V939.47M261.49 935.72H267.29M261.49 939.47H267.29M266.96 936.66V940.56M264.06 936.66H269.86M264.06 940.56H269.86M269.53 936.20V941.03M266.63 936.20H272.43M266.63 941.03H272.43M272.10 935.97V941.25M269.20 935.97H275.00M269.20 941.25H275.00M274.72 937.67V941.59M271.82 937.67H277.62M271.82 941.59H277.62M277.34 937.28V941.98M274.44 937.28H280.24M274.44 941.98H280.24M279.96 938.36V942.95M277.06 938.36H282.86M277.06 942.95H282.86M282.58 938.26V943.05M279.68 938.26H285.48M279.68 943.05H285.48M285.20 939.31V943.02M282.30 939.31H288.10M282.30 943.02H288.10M287.82 939.71V943.64M284.92 939.71H290.72M284.92 943.64H290.72M290.44 939.82V944.55M287.54 939.82H293.34M287.54 944.55H293.34M293.06 940.02V945.37M290.16 940.02H295.96M290.16 945.37H295.96M295.68 941.76V945.67M292.78 941.76H298.58M292.78 945.67H298.58M298.30 943.49V956.19M295.40 943.49H301.20M295.40 956.19H301.20M300.84 943.70V962.10M297.94 943.70H303.74M297.94 962.10H303.74M303.38 937.57V958.03M300.48 937.57H306.28M300.48 958.03H306.28M305.92 933.12V956.36M303.02 933.12H308.82M303.02 956.36H308.82M308.46 929.33V954.02M305.56 929.33H311.36M305.56 954.02H311.36M311.00 925.28V951.95M308.10 925.28H313.90M308.10 951.95H313.90M313.54 921.73V950.40M310.64 921.73H316.44M310.64 950.40H316.44M316.08 919.34V951.76M313.18 919.34H318.98M313.18 951.76H318.98M318.62 917.79V951.27M315.72 917.79H321.52M315.72 951.27H321.52M321.16 915.39V951.63M318.26 915.39H324.06M318.26 951.63H324.06M323.70 912.70V951.25M320.80 912.70H326.60M320.80 951.25H326.60M326.26 911.58V951.35M323.36 911.58H329.16M323.36 951.35H329.16M328.82 909.91V950.98M325.92 909.91H331.72M325.92 950.98H331.72M331.38 910.15V954.83M328.48 910.15H334.28M328.48 954.83H334.28M333.94 909.85V956.15M331.04 909.85H336.84M331.04 956.15H336.84M336.50 910.31V958.75M333.60 910.31H339.40M333.60 958.75H339.40M339.06 918.45V958.78M336.16 918.45H341.96M336.16 958.78H341.96M341.62 923.80V961.59M338.72 923.80H344.52M338.72 961.59H344.52M344.18 927.74V965.82M341.28 927.74H347.08M341.28 965.82H347.08M346.74 931.76V967.92M343.84 931.76H349.64M343.84 967.92H349.64M349.30 935.60V971.23M346.40 935.60H352.20M346.40 971.23H352.20M351.74 938.78V972.13M348.84 938.78H354.64M348.84 972.13H354.64M354.18 940.69V973.28M351.28 940.69H357.08M351.28 973.28H357.08M356.62 941.58V973.41M353.72 941.58H359.52M353.72 973.41H359.52M359.06 942.81V973.20M356.16 942.81H361.96M356.16 973.20H361.96M361.50 943.99V972.63M358.60 943.99H364.40M358.60 972.63H364.40M363.94 943.90V971.09M361.04 943.90H366.84M361.04 971.09H366.84M366.38 945.54V967.41M363.48 945.54H369.28M363.48 967.41H369.28M368.82 944.98V966.95M365.92 944.98H371.72M365.92 966.95H371.72M371.26 945.82V968.15M368.36 945.82H374.16M368.36 968.15H374.16M373.70 947.23V968.78M370.80 947.23H376.60M370.80 968.78H376.60M376.20 948.92V971.18M373.30 948.92H379.10M373.30 971.18H379.10M378.70 952.18V973.01M375.80 952.18H381.60M375.80 973.01H381.60M381.20 954.30V974.77M378.30 954.30H384.10M378.30 974.77H384.10M383.70 953.94V976.36M380.80 953.94H386.60M380.80 976.36H386.60M386.20 954.06V975.83M383.30 954.06H389.10M383.30 975.83H389.10M388.70 953.23V975.03M385.80 953.23H391.60M385.80 975.03H391.60M391.20 952.76V973.46M388.30 952.76H394.10M388.30 973.46H394.10M393.70 950.32V970.80M390.80 950.32H396.60M390.80 970.80H396.60M396.20 947.78V968.85M393.30 947.78H399.10M393.30 968.85H399.10M398.70 947.18V968.83M395.80 947.18H401.60M395.80 968.83H401.60M401.19 946.61V967.77M398.29 946.61H404.09M398.29 967.77H404.09M403.68 945.92V967.24M400.78 945.92H406.58M400.78 967.24H406.58M406.17 944.78V967.15M403.27 944.78H409.07M403.27 967.15H409.07M408.66 944.12V964.75M405.76 944.12H411.56M405.76 964.75H411.56M411.15 943.08V963.74M408.25 943.08H414.05M408.25 963.74H414.05M413.64 942.73V965.11M410.74 942.73H416.54M410.74 965.11H416.54M416.13 943.37V964.47M413.23 943.37H419.03M413.23 964.47H419.03M418.62 942.95V963.87M415.72 942.95H421.52M415.72 963.87H421.52M421.11 942.16V962.62M418.21 942.16H424.01M418.21 962.62H424.01M423.60 939.76V961.96M420.70 939.76H426.50M420.70 961.96H426.50M426.03 941.19V963.59M423.13 941.19H428.93M423.13 963.59H428.93M428.46 942.62V964.21M425.56 942.62H431.36M425.56 964.21H431.36M430.89 943.26V965.60M427.99 943.26H433.79M427.99 965.60H433.79M433.32 943.93V965.96M430.42 943.93H436.22M430.42 965.96H436.22M435.75 945.28V966.65M432.85 945.28H438.65M432.85 966.65H438.65M438.18 945.33V967.62M435.28 945.33H441.08M435.28 967.62H441.08M440.61 946.72V968.27M437.71 946.72H443.51M437.71 968.27H443.51M443.04 947.64V968.99M440.14 947.64H445.94M440.14 968.99H445.94M445.47 948.06V969.99M442.57 948.06H448.37M442.57 969.99H448.37M447.90 949.17V969.90M445.00 949.17H450.80M445.00 969.90H450.80M450.46 949.00V971.09M447.56 949.00H453.36M447.56 971.09H453.36M453.02 950.21V971.93M450.12 950.21H455.92M450.12 971.93H455.92M455.58 951.39V972.79M452.68 951.39H458.48M452.68 972.79H458.48M458.14 951.17V973.01M455.24 951.17H461.04M455.24 973.01H461.04M460.70 951.54V973.66M457.80 951.54H463.60M457.80 973.66H463.60M463.26 952.15V972.85M460.36 952.15H466.16M460.36 972.85H466.16M465.82 952.49V973.72M462.92 952.49H468.72M462.92 973.72H468.72M468.38 953.08V975.17M465.48 953.08H471.28M465.48 975.17H471.28M470.94 954.04V976.26M468.04 954.04H473.84M468.04 976.26H473.84M473.50 955.07V976.25M470.60 955.07H476.40M470.60 976.25H476.40" stroke="#231f20" stroke-width="0.95" fill="none"/>
<circle cx="246.40" cy="937.59" r="3.35" fill="#231f20"/>
<circle cx="248.97" cy="937.59" r="3.35" fill="#231f20"/>
<circle cx="251.54" cy="936.57" r="3.35" fill="#231f20"/>
<circle cx="254.11" cy="937.59" r="3.35" fill="#231f20"/>
<circle cx="256.68" cy="938.61" r="3.35" fill="#231f20"/>
<circle cx="259.25" cy="938.61" r="3.35" fill="#231f20"/>
<circle cx="261.82" cy="937.59" r="3.35" fill="#231f20"/>
<circle cx="264.39" cy="937.59" r="3.35" fill="#231f20"/>
<circle cx="266.96" cy="938.61" r="3.35" fill="#231f20"/>
<circle cx="269.53" cy="938.61" r="3.35" fill="#231f20"/>
<circle cx="272.10" cy="938.61" r="3.35" fill="#231f20"/>
<circle cx="274.72" cy="939.63" r="3.35" fill="#231f20"/>
<circle cx="277.34" cy="939.63" r="3.35" fill="#231f20"/>
<circle cx="279.96" cy="940.65" r="3.35" fill="#231f20"/>
<circle cx="282.58" cy="940.65" r="3.35" fill="#231f20"/>
<circle cx="285.20" cy="941.16" r="3.35" fill="#231f20"/>
<circle cx="287.82" cy="941.67" r="3.35" fill="#231f20"/>
<circle cx="290.44" cy="942.19" r="3.35" fill="#231f20"/>
<circle cx="293.06" cy="942.70" r="3.35" fill="#231f20"/>
<circle cx="295.68" cy="943.72" r="3.35" fill="#231f20"/>
<circle cx="298.30" cy="949.84" r="3.35" fill="#231f20"/>
<circle cx="300.84" cy="952.90" r="3.35" fill="#231f20"/>
<circle cx="303.38" cy="947.80" r="3.35" fill="#231f20"/>
<circle cx="305.92" cy="944.74" r="3.35" fill="#231f20"/>
<circle cx="308.46" cy="941.67" r="3.35" fill="#231f20"/>
<circle cx="311.00" cy="938.61" r="3.35" fill="#231f20"/>
<circle cx="313.54" cy="936.06" r="3.35" fill="#231f20"/>
<circle cx="316.08" cy="935.55" r="3.35" fill="#231f20"/>
<circle cx="318.62" cy="934.53" r="3.35" fill="#231f20"/>
<circle cx="321.16" cy="933.51" r="3.35" fill="#231f20"/>
<circle cx="323.70" cy="931.98" r="3.35" fill="#231f20"/>
<circle cx="326.26" cy="931.47" r="3.35" fill="#231f20"/>
<circle cx="328.82" cy="930.45" r="3.35" fill="#231f20"/>
<circle cx="331.38" cy="932.49" r="3.35" fill="#231f20"/>
<circle cx="333.94" cy="933.00" r="3.35" fill="#231f20"/>
<circle cx="336.50" cy="934.53" r="3.35" fill="#231f20"/>
<circle cx="339.06" cy="938.61" r="3.35" fill="#231f20"/>
<circle cx="341.62" cy="942.70" r="3.35" fill="#231f20"/>
<circle cx="344.18" cy="946.78" r="3.35" fill="#231f20"/>
<circle cx="346.74" cy="949.84" r="3.35" fill="#231f20"/>
<circle cx="349.30" cy="953.41" r="3.35" fill="#231f20"/>
<circle cx="351.74" cy="955.45" r="3.35" fill="#231f20"/>
<circle cx="354.18" cy="956.98" r="3.35" fill="#231f20"/>
<circle cx="356.62" cy="957.50" r="3.35" fill="#231f20"/>
<circle cx="359.06" cy="958.01" r="3.35" fill="#231f20"/>
<circle cx="361.50" cy="958.31" r="3.35" fill="#231f20"/>
<circle cx="363.94" cy="957.50" r="3.35" fill="#231f20"/>
<circle cx="366.38" cy="956.47" r="3.35" fill="#231f20"/>
<circle cx="368.82" cy="955.96" r="3.35" fill="#231f20"/>
<circle cx="371.26" cy="956.98" r="3.35" fill="#231f20"/>
<circle cx="373.70" cy="958.01" r="3.35" fill="#231f20"/>
<circle cx="376.20" cy="960.05" r="3.35" fill="#231f20"/>
<circle cx="378.70" cy="962.60" r="3.35" fill="#231f20"/>
<circle cx="381.20" cy="964.54" r="3.35" fill="#231f20"/>
<circle cx="383.70" cy="965.15" r="3.35" fill="#231f20"/>
<circle cx="386.20" cy="964.95" r="3.35" fill="#231f20"/>
<circle cx="388.70" cy="964.13" r="3.35" fill="#231f20"/>
<circle cx="391.20" cy="963.11" r="3.35" fill="#231f20"/>
<circle cx="393.70" cy="960.56" r="3.35" fill="#231f20"/>
<circle cx="396.20" cy="958.31" r="3.35" fill="#231f20"/>
<circle cx="398.70" cy="958.01" r="3.35" fill="#231f20"/>
<circle cx="401.19" cy="957.19" r="3.35" fill="#231f20"/>
<circle cx="403.68" cy="956.58" r="3.35" fill="#231f20"/>
<circle cx="406.17" cy="955.96" r="3.35" fill="#231f20"/>
<circle cx="408.66" cy="954.43" r="3.35" fill="#231f20"/>
<circle cx="411.15" cy="953.41" r="3.35" fill="#231f20"/>
<circle cx="413.64" cy="953.92" r="3.35" fill="#231f20"/>
<circle cx="416.13" cy="953.92" r="3.35" fill="#231f20"/>
<circle cx="418.62" cy="953.41" r="3.35" fill="#231f20"/>
<circle cx="421.11" cy="952.39" r="3.35" fill="#231f20"/>
<circle cx="423.60" cy="950.86" r="3.35" fill="#231f20"/>
<circle cx="426.03" cy="952.39" r="3.35" fill="#231f20"/>
<circle cx="428.46" cy="953.41" r="3.35" fill="#231f20"/>
<circle cx="430.89" cy="954.43" r="3.35" fill="#231f20"/>
<circle cx="433.32" cy="954.94" r="3.35" fill="#231f20"/>
<circle cx="435.75" cy="955.96" r="3.35" fill="#231f20"/>
<circle cx="438.18" cy="956.47" r="3.35" fill="#231f20"/>
<circle cx="440.61" cy="957.50" r="3.35" fill="#231f20"/>
<circle cx="443.04" cy="958.31" r="3.35" fill="#231f20"/>
<circle cx="445.47" cy="959.03" r="3.35" fill="#231f20"/>
<circle cx="447.90" cy="959.54" r="3.35" fill="#231f20"/>
<circle cx="450.46" cy="960.05" r="3.35" fill="#231f20"/>
<circle cx="453.02" cy="961.07" r="3.35" fill="#231f20"/>
<circle cx="455.58" cy="962.09" r="3.35" fill="#231f20"/>
<circle cx="458.14" cy="962.09" r="3.35" fill="#231f20"/>
<circle cx="460.70" cy="962.60" r="3.35" fill="#231f20"/>
<circle cx="463.26" cy="962.50" r="3.35" fill="#231f20"/>
<circle cx="465.82" cy="963.11" r="3.35" fill="#231f20"/>
<circle cx="468.38" cy="964.13" r="3.35" fill="#231f20"/>
<circle cx="470.94" cy="965.15" r="3.35" fill="#231f20"/>
<circle cx="473.50" cy="965.66" r="3.35" fill="#231f20"/>
<line x1="348.30" y1="939.30" x2="470.50" y2="939.30" stroke="#231f20" stroke-width="2.2" stroke-dasharray="4.9 6.8"/>
<rect x="300.30" y="897.70" width="39.40" height="143.40" fill="#dadbdd" fill-opacity="0.58"/>
<line x1="300.30" y1="899.70" x2="300.30" y2="1041.10" stroke="#c9cbcd" stroke-width="0.9" stroke-dasharray="1 3.7"/>
<line x1="339.70" y1="899.70" x2="339.70" y2="1041.10" stroke="#c9cbcd" stroke-width="0.9" stroke-dasharray="1 3.7"/>
<line x1="300.00" y1="897.00" x2="339.80" y2="897.00" stroke="#58595b" stroke-width="1.9"/>
<circle cx="368.60" cy="891.50" r="3.35" fill="#231f20"/>
<path d="M365.50 905.60H371.70L368.60 911.70Z" fill="#fff" stroke="#231f20" stroke-width="0.9"/>
<text x="387.50" y="896.40" font-size="14.6" text-anchor="start" fill="#231f20" textLength="22.40" lengthAdjust="spacingAndGlyphs" stroke="#231f20" stroke-width="0.2">WT</text>
<text x="387.50" y="915.40" font-size="14.6" text-anchor="start" fill="#231f20" textLength="32.80" lengthAdjust="spacingAndGlyphs" stroke="#231f20" stroke-width="0.2">Npc1</text>
<text x="420.60" y="909.40" font-size="11.0" text-anchor="start" fill="#231f20" textLength="38.00" lengthAdjust="spacingAndGlyphs">nmf164</text>
<line x1="485.90" y1="965.80" x2="485.90" y2="991.30" stroke="#231f20" stroke-width="1.3"/>
<text x="0" y="0" transform="translate(483.40 979.40) rotate(90)" font-size="18" font-weight="bold" stroke="#231f20" stroke-width="0.22" text-anchor="middle" fill="#231f20">*</text>
<line x1="555.40" y1="119.80" x2="555.40" y2="268.70" stroke="#231f20" stroke-width="1.1"/>
<line x1="554.90" y1="268.20" x2="685.00" y2="268.20" stroke="#231f20" stroke-width="1.1"/>
<line x1="551.80" y1="268.20" x2="555.40" y2="268.20" stroke="#231f20" stroke-width="1.1"/>
<text x="551.20" y="271.25" font-size="8.6" font-weight="bold" stroke="#231f20" stroke-width="0.22" text-anchor="end" fill="#231f20">0</text>
<line x1="551.80" y1="238.62" x2="555.40" y2="238.62" stroke="#231f20" stroke-width="1.1"/>
<text x="551.20" y="241.67" font-size="8.6" font-weight="bold" stroke="#231f20" stroke-width="0.22" text-anchor="end" fill="#231f20">50</text>
<line x1="551.80" y1="209.04" x2="555.40" y2="209.04" stroke="#231f20" stroke-width="1.1"/>
<text x="551.20" y="212.09" font-size="8.6" font-weight="bold" stroke="#231f20" stroke-width="0.22" text-anchor="end" fill="#231f20">100</text>
<line x1="551.80" y1="179.46" x2="555.40" y2="179.46" stroke="#231f20" stroke-width="1.1"/>
<text x="551.20" y="182.51" font-size="8.6" font-weight="bold" stroke="#231f20" stroke-width="0.22" text-anchor="end" fill="#231f20">150</text>
<line x1="551.80" y1="149.88" x2="555.40" y2="149.88" stroke="#231f20" stroke-width="1.1"/>
<text x="551.20" y="152.93" font-size="8.6" font-weight="bold" stroke="#231f20" stroke-width="0.22" text-anchor="end" fill="#231f20">200</text>
<line x1="551.80" y1="120.30" x2="555.40" y2="120.30" stroke="#231f20" stroke-width="1.1"/>
<text x="551.20" y="123.35" font-size="8.6" font-weight="bold" stroke="#231f20" stroke-width="0.22" text-anchor="end" fill="#231f20">250</text>
<text x="0" y="0" transform="translate(531.00 190.40) rotate(-90)" font-size="12.0" font-weight="bold" stroke="#231f20" stroke-width="0.22" text-anchor="middle" fill="#231f20" textLength="119.30" lengthAdjust="spacingAndGlyphs">Puromycin (% of WT)</text>
<line x1="592.50" y1="204.50" x2="592.50" y2="209.60" stroke="#231f20" stroke-width="1.0"/>
<line x1="584.00" y1="204.50" x2="601.00" y2="204.50" stroke="#231f20" stroke-width="1.0"/>
<rect x="574.3" y="209.4" width="36.4" height="58.80" fill="#231f20"/>
<line x1="647.60" y1="164.60" x2="647.60" y2="174.30" stroke="#231f20" stroke-width="1.0"/>
<line x1="638.30" y1="164.60" x2="656.90" y2="164.60" stroke="#231f20" stroke-width="1.0"/>
<rect x="629.85" y="174.9" width="35.5" height="93.30" fill="#fff" stroke="#231f20" stroke-width="1.2"/>
<text x="647.70" y="165.00" font-size="12.5" font-weight="bold" stroke="#231f20" stroke-width="0.22" text-anchor="middle" fill="#231f20">**</text>
<line x1="592.40" y1="268.20" x2="592.40" y2="271.00" stroke="#231f20" stroke-width="1.0"/>
<line x1="647.60" y1="268.20" x2="647.60" y2="271.00" stroke="#231f20" stroke-width="1.0"/>
<text x="592.40" y="281.50" font-size="10.0" font-weight="bold" stroke="#231f20" stroke-width="0.22" text-anchor="middle" fill="#231f20">WT</text>
<text x="622.30" y="281.50" font-size="10.0" font-weight="bold" stroke="#231f20" stroke-width="0.22" text-anchor="start" fill="#231f20" textLength="24.30" lengthAdjust="spacingAndGlyphs">Npc1</text>
<text x="647.70" y="276.00" font-size="7.8" text-anchor="start" fill="#231f20" textLength="25.10" lengthAdjust="spacingAndGlyphs" stroke="#231f20" stroke-width="0.15">nmf164</text>
<line x1="552.60" y1="401.40" x2="552.60" y2="549.90" stroke="#231f20" stroke-width="1.1"/>
<line x1="552.10" y1="549.40" x2="685.00" y2="549.40" stroke="#231f20" stroke-width="1.1"/>
<line x1="549.30" y1="549.40" x2="552.60" y2="549.40" stroke="#231f20" stroke-width="1.1"/>
<text x="548.40" y="552.45" font-size="8.5" font-weight="bold" stroke="#231f20" stroke-width="0.22" text-anchor="end" fill="#231f20">0.0</text>
<line x1="549.30" y1="519.90" x2="552.60" y2="519.90" stroke="#231f20" stroke-width="1.1"/>
<text x="548.40" y="522.95" font-size="8.5" font-weight="bold" stroke="#231f20" stroke-width="0.22" text-anchor="end" fill="#231f20">0.2</text>
<line x1="549.30" y1="490.40" x2="552.60" y2="490.40" stroke="#231f20" stroke-width="1.1"/>
<text x="548.40" y="493.45" font-size="8.5" font-weight="bold" stroke="#231f20" stroke-width="0.22" text-anchor="end" fill="#231f20">0.4</text>
<line x1="549.30" y1="460.90" x2="552.60" y2="460.90" stroke="#231f20" stroke-width="1.1"/>
<text x="548.40" y="463.95" font-size="8.5" font-weight="bold" stroke="#231f20" stroke-width="0.22" text-anchor="end" fill="#231f20">0.6</text>
<line x1="549.30" y1="431.40" x2="552.60" y2="431.40" stroke="#231f20" stroke-width="1.1"/>
<text x="548.40" y="434.45" font-size="8.5" font-weight="bold" stroke="#231f20" stroke-width="0.22" text-anchor="end" fill="#231f20">0.8</text>
<line x1="549.30" y1="401.90" x2="552.60" y2="401.90" stroke="#231f20" stroke-width="1.1"/>
<text x="548.40" y="404.95" font-size="8.5" font-weight="bold" stroke="#231f20" stroke-width="0.22" text-anchor="end" fill="#231f20">1.0</text>
<line x1="551.70" y1="401.90" x2="680.40" y2="401.90" stroke="#231f20" stroke-width="1.5" stroke-dasharray="2.8 4.2"/>
<text x="0" y="0" transform="translate(530.50 474.45) rotate(-90)" font-size="11.7" font-weight="bold" stroke="#231f20" stroke-width="0.22" text-anchor="middle" fill="#231f20" textLength="139.00" lengthAdjust="spacingAndGlyphs">fEPSP slope (% baseline)</text>
<line x1="589.50" y1="421.37" x2="589.50" y2="427.47" stroke="#231f20" stroke-width="1.0"/>
<line x1="580.10" y1="421.37" x2="598.90" y2="421.37" stroke="#231f20" stroke-width="1.0"/>
<rect x="571.40" y="426.97" width="36.60" height="122.43" fill="#231f20"/>
<line x1="645.10" y1="483.32" x2="645.10" y2="498.95" stroke="#231f20" stroke-width="1.0"/>
<line x1="636.00" y1="483.32" x2="654.20" y2="483.32" stroke="#231f20" stroke-width="1.0"/>
<rect x="627.20" y="499.56" width="35.30" height="49.84" fill="#fff" stroke="#231f20" stroke-width="1.2"/>
<text x="590.50" y="421.20" font-size="9.8" text-anchor="middle" fill="#414042">#</text>
<text x="645.10" y="482.00" font-size="9.8" text-anchor="middle" fill="#414042">##</text>
<line x1="588.00" y1="411.30" x2="645.80" y2="411.30" stroke="#58595b" stroke-width="0.8"/>
<text x="615.50" y="414.30" font-size="12" text-anchor="middle" fill="#414042">**</text>
<line x1="589.50" y1="549.40" x2="589.50" y2="552.00" stroke="#231f20" stroke-width="1.0"/>
<line x1="645.10" y1="549.40" x2="645.10" y2="552.00" stroke="#231f20" stroke-width="1.0"/>
<text x="589.50" y="562.60" font-size="10.0" font-weight="bold" stroke="#231f20" stroke-width="0.22" text-anchor="middle" fill="#231f20">WT</text>
<text x="620.10" y="562.60" font-size="10.0" font-weight="bold" stroke="#231f20" stroke-width="0.22" text-anchor="start" fill="#231f20" textLength="23.90" lengthAdjust="spacingAndGlyphs">Npc1</text>
<text x="645.10" y="557.60" font-size="7.8" text-anchor="start" fill="#231f20" textLength="25.70" lengthAdjust="spacingAndGlyphs" stroke="#231f20" stroke-width="0.15">nmf164</text>
<line x1="552.50" y1="614.70" x2="552.50" y2="763.00" stroke="#231f20" stroke-width="1.1"/>
<line x1="552.00" y1="762.50" x2="685.00" y2="762.50" stroke="#231f20" stroke-width="1.1"/>
<line x1="549.20" y1="762.50" x2="552.50" y2="762.50" stroke="#231f20" stroke-width="1.1"/>
<text x="548.30" y="765.55" font-size="8.5" font-weight="bold" stroke="#231f20" stroke-width="0.22" text-anchor="end" fill="#231f20">0.0</text>
<line x1="549.20" y1="733.04" x2="552.50" y2="733.04" stroke="#231f20" stroke-width="1.1"/>
<text x="548.30" y="736.09" font-size="8.5" font-weight="bold" stroke="#231f20" stroke-width="0.22" text-anchor="end" fill="#231f20">0.2</text>
<line x1="549.20" y1="703.58" x2="552.50" y2="703.58" stroke="#231f20" stroke-width="1.1"/>
<text x="548.30" y="706.63" font-size="8.5" font-weight="bold" stroke="#231f20" stroke-width="0.22" text-anchor="end" fill="#231f20">0.4</text>
<line x1="549.20" y1="674.12" x2="552.50" y2="674.12" stroke="#231f20" stroke-width="1.1"/>
<text x="548.30" y="677.17" font-size="8.5" font-weight="bold" stroke="#231f20" stroke-width="0.22" text-anchor="end" fill="#231f20">0.6</text>
<line x1="549.20" y1="644.66" x2="552.50" y2="644.66" stroke="#231f20" stroke-width="1.1"/>
<text x="548.30" y="647.71" font-size="8.5" font-weight="bold" stroke="#231f20" stroke-width="0.22" text-anchor="end" fill="#231f20">0.8</text>
<line x1="549.20" y1="615.20" x2="552.50" y2="615.20" stroke="#231f20" stroke-width="1.1"/>
<text x="548.30" y="618.25" font-size="8.5" font-weight="bold" stroke="#231f20" stroke-width="0.22" text-anchor="end" fill="#231f20">1.0</text>
<line x1="551.60" y1="615.20" x2="661.00" y2="615.20" stroke="#231f20" stroke-width="1.5" stroke-dasharray="2.8 4.2"/>
<text x="0" y="0" transform="translate(530.00 687.65) rotate(-90)" font-size="11.7" font-weight="bold" stroke="#231f20" stroke-width="0.22" text-anchor="middle" fill="#231f20" textLength="139.00" lengthAdjust="spacingAndGlyphs">fEPSP slope (% baseline)</text>
<line x1="589.25" y1="665.43" x2="589.25" y2="672.41" stroke="#231f20" stroke-width="1.0"/>
<line x1="580.20" y1="665.43" x2="598.30" y2="665.43" stroke="#231f20" stroke-width="1.0"/>
<rect x="571.30" y="671.91" width="36.10" height="90.59" fill="#231f20"/>
<line x1="643.90" y1="627.43" x2="643.90" y2="650.55" stroke="#231f20" stroke-width="1.0"/>
<line x1="635.10" y1="627.43" x2="652.70" y2="627.43" stroke="#231f20" stroke-width="1.0"/>
<rect x="626.60" y="651.15" width="34.40" height="111.35" fill="#fff" stroke="#231f20" stroke-width="1.2"/>
<text x="589.60" y="663.10" font-size="9.8" text-anchor="middle" fill="#414042">####</text>
<line x1="589.25" y1="762.50" x2="589.25" y2="765.10" stroke="#231f20" stroke-width="1.0"/>
<line x1="643.90" y1="762.50" x2="643.90" y2="765.10" stroke="#231f20" stroke-width="1.0"/>
<text x="589.00" y="775.90" font-size="10.0" font-weight="bold" stroke="#231f20" stroke-width="0.22" text-anchor="middle" fill="#231f20">WT</text>
<text x="618.70" y="775.90" font-size="10.0" font-weight="bold" stroke="#231f20" stroke-width="0.22" text-anchor="start" fill="#231f20" textLength="25.00" lengthAdjust="spacingAndGlyphs">Npc1</text>
<text x="644.80" y="770.80" font-size="7.8" text-anchor="start" fill="#231f20" textLength="24.00" lengthAdjust="spacingAndGlyphs" stroke="#231f20" stroke-width="0.15">nmf164</text>
<line x1="553.80" y1="894.00" x2="553.80" y2="1043.50" stroke="#231f20" stroke-width="1.1"/>
<line x1="553.30" y1="1043.00" x2="685.00" y2="1043.00" stroke="#231f20" stroke-width="1.1"/>
<line x1="550.50" y1="1043.00" x2="553.80" y2="1043.00" stroke="#231f20" stroke-width="1.1"/>
<text x="549.60" y="1046.05" font-size="8.5" font-weight="bold" stroke="#231f20" stroke-width="0.22" text-anchor="end" fill="#231f20">0.0</text>
<line x1="550.50" y1="1013.30" x2="553.80" y2="1013.30" stroke="#231f20" stroke-width="1.1"/>
<text x="549.60" y="1016.35" font-size="8.5" font-weight="bold" stroke="#231f20" stroke-width="0.22" text-anchor="end" fill="#231f20">0.2</text>
<line x1="550.50" y1="983.60" x2="553.80" y2="983.60" stroke="#231f20" stroke-width="1.1"/>
<text x="549.60" y="986.65" font-size="8.5" font-weight="bold" stroke="#231f20" stroke-width="0.22" text-anchor="end" fill="#231f20">0.4</text>
<line x1="550.50" y1="953.90" x2="553.80" y2="953.90" stroke="#231f20" stroke-width="1.1"/>
<text x="549.60" y="956.95" font-size="8.5" font-weight="bold" stroke="#231f20" stroke-width="0.22" text-anchor="end" fill="#231f20">0.6</text>
<line x1="550.50" y1="924.20" x2="553.80" y2="924.20" stroke="#231f20" stroke-width="1.1"/>
<text x="549.60" y="927.25" font-size="8.5" font-weight="bold" stroke="#231f20" stroke-width="0.22" text-anchor="end" fill="#231f20">0.8</text>
<line x1="550.50" y1="894.50" x2="553.80" y2="894.50" stroke="#231f20" stroke-width="1.1"/>
<text x="549.60" y="897.55" font-size="8.5" font-weight="bold" stroke="#231f20" stroke-width="0.22" text-anchor="end" fill="#231f20">1.0</text>
<line x1="552.90" y1="894.50" x2="663.50" y2="894.50" stroke="#231f20" stroke-width="1.5" stroke-dasharray="2.8 4.2"/>
<text x="0" y="0" transform="translate(530.60 967.55) rotate(-90)" font-size="11.7" font-weight="bold" stroke="#231f20" stroke-width="0.22" text-anchor="middle" fill="#231f20" textLength="139.00" lengthAdjust="spacingAndGlyphs">fEPSP slope (% baseline)</text>
<line x1="591.05" y1="906.08" x2="591.05" y2="919.06" stroke="#231f20" stroke-width="1.0"/>
<line x1="582.10" y1="906.08" x2="600.00" y2="906.08" stroke="#231f20" stroke-width="1.0"/>
<rect x="572.50" y="918.56" width="37.10" height="124.44" fill="#231f20"/>
<line x1="646.80" y1="952.42" x2="646.80" y2="958.80" stroke="#231f20" stroke-width="1.0"/>
<line x1="638.00" y1="952.42" x2="655.60" y2="952.42" stroke="#231f20" stroke-width="1.0"/>
<rect x="629.00" y="959.40" width="35.10" height="83.60" fill="#fff" stroke="#231f20" stroke-width="1.2"/>
<text x="647.20" y="945.50" font-size="9.8" text-anchor="middle" fill="#414042">###</text>
<line x1="589.80" y1="902.90" x2="643.60" y2="902.90" stroke="#a7a9ac" stroke-width="0.8"/>
<text x="615.90" y="904.90" font-size="12" text-anchor="middle" fill="#414042">*</text>
<line x1="591.05" y1="1043.00" x2="591.05" y2="1045.60" stroke="#231f20" stroke-width="1.0"/>
<line x1="646.80" y1="1043.00" x2="646.80" y2="1045.60" stroke="#231f20" stroke-width="1.0"/>
<text x="590.50" y="1056.40" font-size="10.0" font-weight="bold" stroke="#231f20" stroke-width="0.22" text-anchor="middle" fill="#231f20">WT</text>
<text x="620.90" y="1056.40" font-size="10.0" font-weight="bold" stroke="#231f20" stroke-width="0.22" text-anchor="start" fill="#231f20" textLength="25.10" lengthAdjust="spacingAndGlyphs">Npc1</text>
<text x="647.10" y="1050.70" font-size="7.8" text-anchor="start" fill="#231f20" textLength="24.50" lengthAdjust="spacingAndGlyphs" stroke="#231f20" stroke-width="0.15">nmf164</text>
</svg>
</body></html>
